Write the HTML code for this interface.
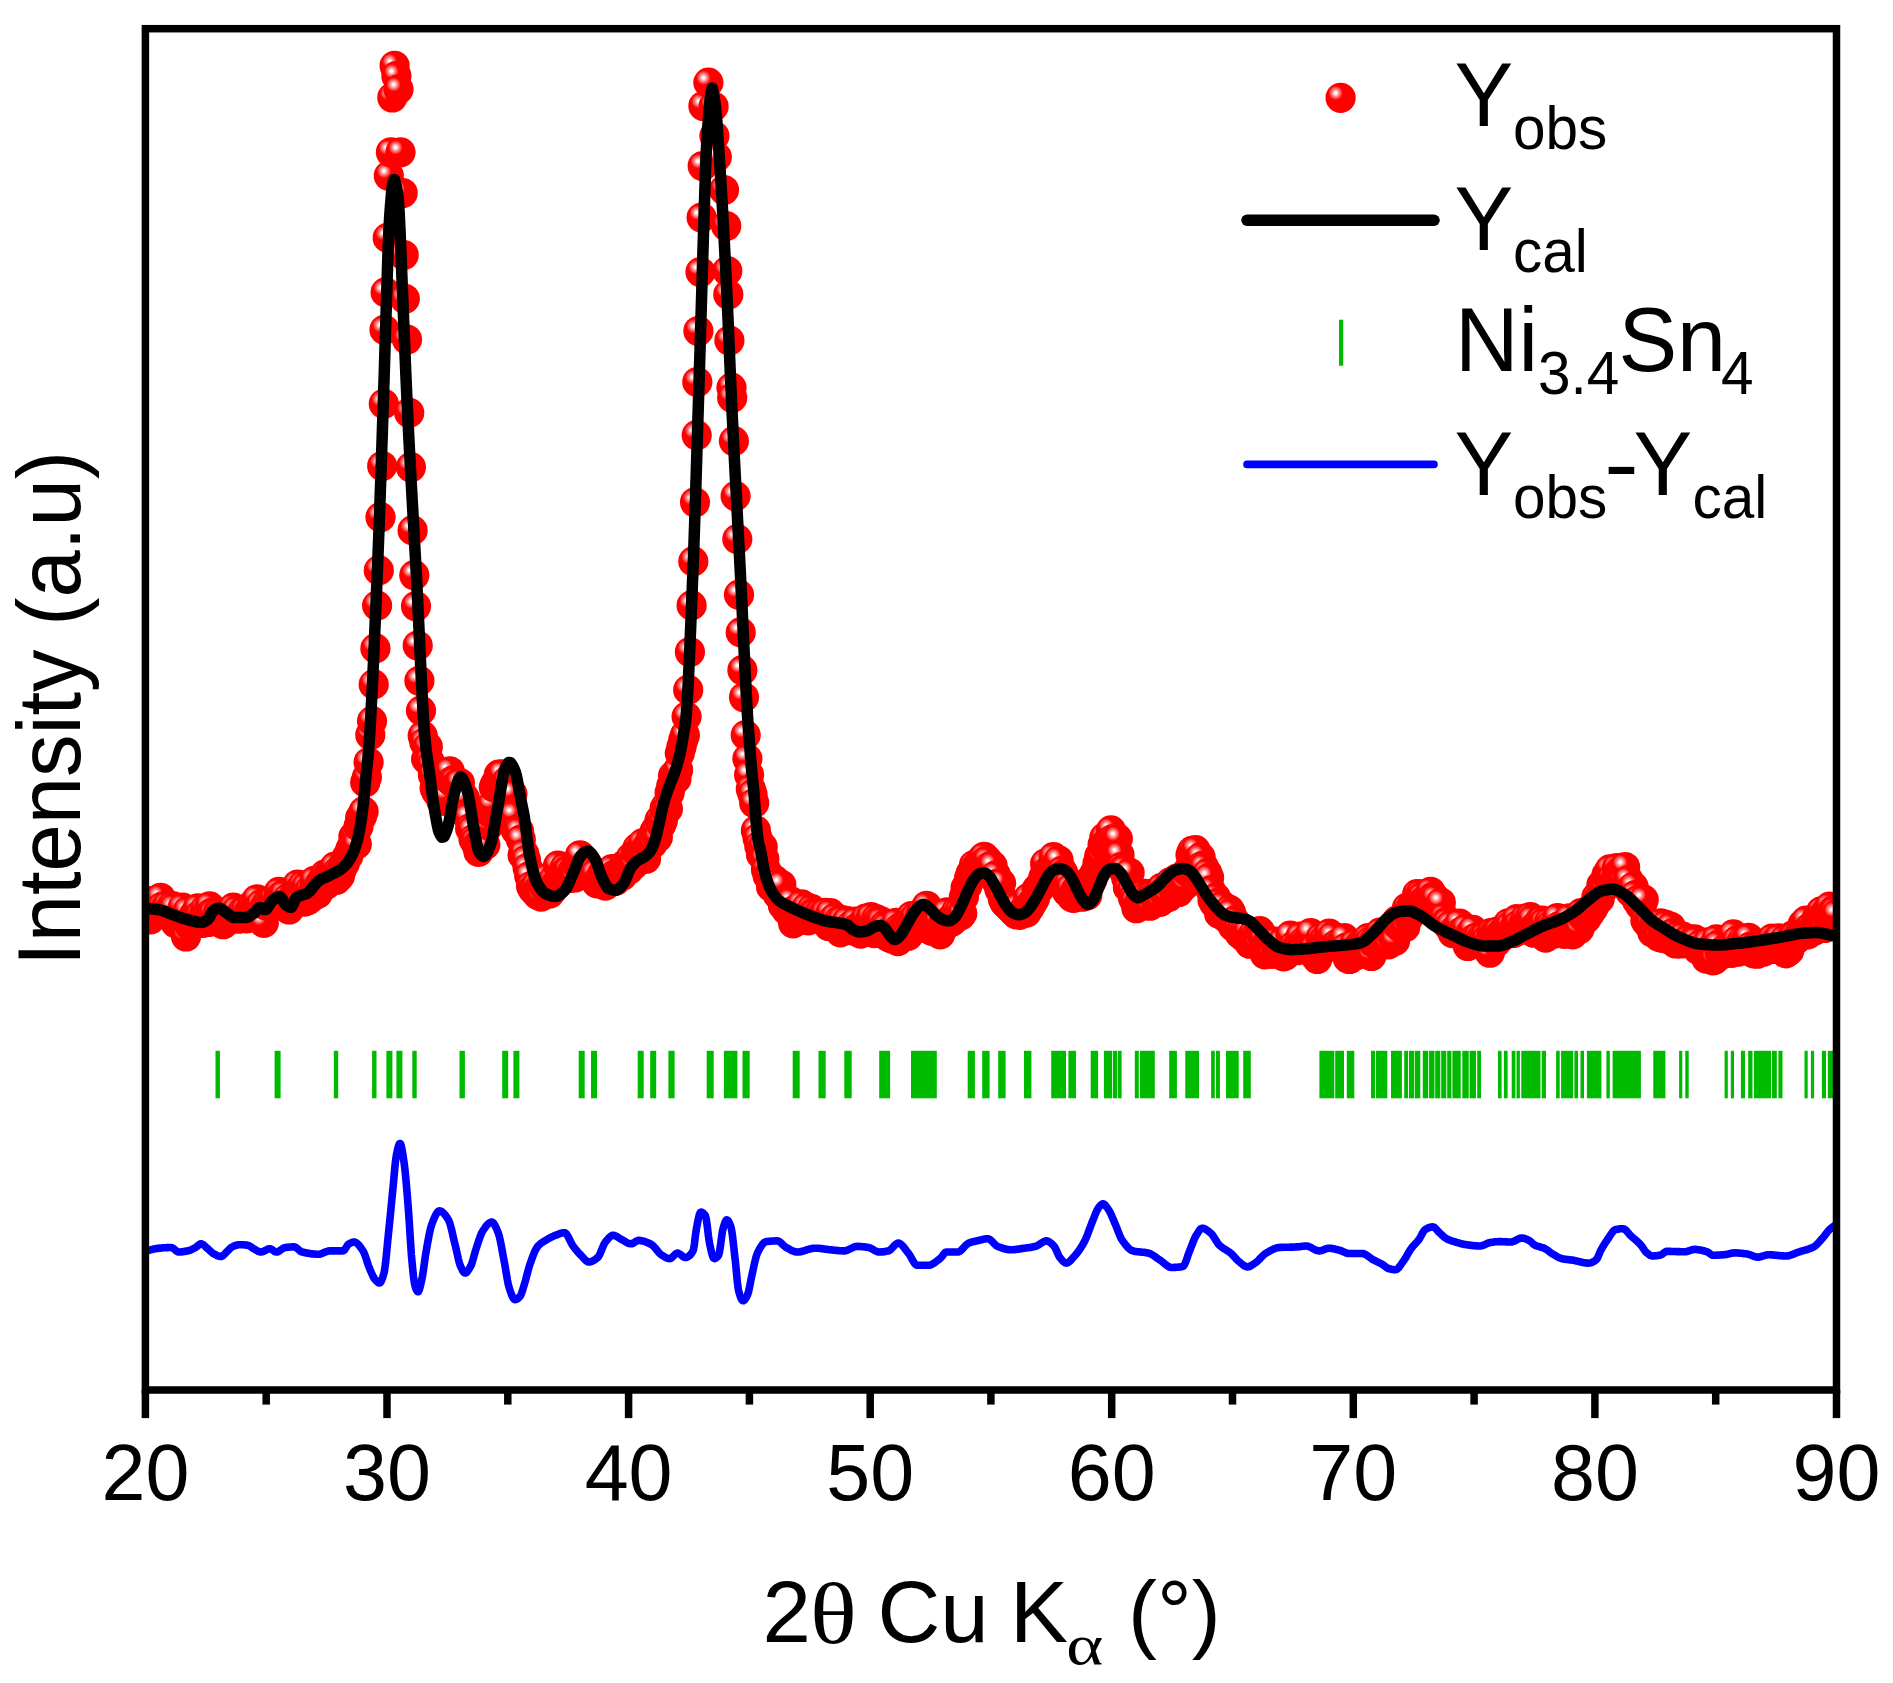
<!DOCTYPE html>
<html lang="en">
<head>
<meta charset="utf-8">
<title>XRD Rietveld refinement Ni3.4Sn4</title>
<style>
html,body{margin:0;padding:0;background:#fff;}
body{width:1893px;height:1683px;overflow:hidden;}
svg{display:block;}
text{font-family:"Liberation Sans", Arial, Helvetica, sans-serif;fill:#000;}
.ser{font-family:"Liberation Serif", "Times New Roman", serif;}
</style>
</head>
<body>
<svg width="1893" height="1683" viewBox="0 0 1893 1683">
<defs>
<radialGradient id="ball" cx="0.337" cy="0.339" r="0.235" fx="0.337" fy="0.339">
<stop offset="0" stop-color="#fff"/>
<stop offset="0.18" stop-color="#fff2f2"/>
<stop offset="0.45" stop-color="#ff9c9c"/>
<stop offset="0.75" stop-color="#ff4a4a"/>
<stop offset="1" stop-color="#f00"/>
</radialGradient>
<clipPath id="plot"><rect x="145.4" y="28.7" width="1691.1" height="1361.3"/></clipPath>
</defs>
<rect width="1893" height="1683" fill="#fff"/>
<g clip-path="url(#plot)">
<g fill="url(#ball)"><circle cx="145.4" cy="912.2" r="15.1"/><circle cx="147.1" cy="902.3" r="15.1"/><circle cx="148.8" cy="901.1" r="15.1"/><circle cx="150.5" cy="919.4" r="15.1"/><circle cx="152.2" cy="903.4" r="15.1"/><circle cx="153.9" cy="911.0" r="15.1"/><circle cx="155.5" cy="900.5" r="15.1"/><circle cx="157.2" cy="913.4" r="15.1"/><circle cx="158.9" cy="904.2" r="15.1"/><circle cx="160.6" cy="897.8" r="15.1"/><circle cx="162.3" cy="906.5" r="15.1"/><circle cx="164.0" cy="911.0" r="15.1"/><circle cx="165.7" cy="907.9" r="15.1"/><circle cx="167.4" cy="905.7" r="15.1"/><circle cx="169.1" cy="911.6" r="15.1"/><circle cx="170.8" cy="907.6" r="15.1"/><circle cx="172.5" cy="906.0" r="15.1"/><circle cx="174.1" cy="907.9" r="15.1"/><circle cx="175.8" cy="923.4" r="15.1"/><circle cx="177.5" cy="917.2" r="15.1"/><circle cx="179.2" cy="919.5" r="15.1"/><circle cx="180.9" cy="920.1" r="15.1"/><circle cx="182.6" cy="907.6" r="15.1"/><circle cx="184.3" cy="921.2" r="15.1"/><circle cx="186.0" cy="936.5" r="15.1"/><circle cx="187.7" cy="911.0" r="15.1"/><circle cx="189.4" cy="925.2" r="15.1"/><circle cx="191.1" cy="925.8" r="15.1"/><circle cx="192.8" cy="925.4" r="15.1"/><circle cx="194.4" cy="914.2" r="15.1"/><circle cx="196.1" cy="915.3" r="15.1"/><circle cx="197.8" cy="908.3" r="15.1"/><circle cx="199.5" cy="915.1" r="15.1"/><circle cx="201.2" cy="921.1" r="15.1"/><circle cx="202.9" cy="922.9" r="15.1"/><circle cx="204.6" cy="910.0" r="15.1"/><circle cx="206.3" cy="913.7" r="15.1"/><circle cx="208.0" cy="922.0" r="15.1"/><circle cx="209.7" cy="906.4" r="15.1"/><circle cx="211.4" cy="912.9" r="15.1"/><circle cx="213.0" cy="913.8" r="15.1"/><circle cx="214.7" cy="921.1" r="15.1"/><circle cx="216.4" cy="917.8" r="15.1"/><circle cx="218.1" cy="912.3" r="15.1"/><circle cx="219.8" cy="912.6" r="15.1"/><circle cx="221.5" cy="914.2" r="15.1"/><circle cx="223.2" cy="924.2" r="15.1"/><circle cx="224.9" cy="913.1" r="15.1"/><circle cx="226.6" cy="913.0" r="15.1"/><circle cx="228.3" cy="916.4" r="15.1"/><circle cx="230.0" cy="913.4" r="15.1"/><circle cx="231.6" cy="912.7" r="15.1"/><circle cx="233.3" cy="907.6" r="15.1"/><circle cx="235.0" cy="913.1" r="15.1"/><circle cx="236.7" cy="910.2" r="15.1"/><circle cx="238.4" cy="918.7" r="15.1"/><circle cx="240.1" cy="915.8" r="15.1"/><circle cx="241.8" cy="912.1" r="15.1"/><circle cx="243.5" cy="916.0" r="15.1"/><circle cx="245.2" cy="910.6" r="15.1"/><circle cx="246.9" cy="918.3" r="15.1"/><circle cx="248.6" cy="912.2" r="15.1"/><circle cx="250.2" cy="915.4" r="15.1"/><circle cx="251.9" cy="905.2" r="15.1"/><circle cx="253.6" cy="914.1" r="15.1"/><circle cx="255.3" cy="902.4" r="15.1"/><circle cx="257.0" cy="899.3" r="15.1"/><circle cx="258.7" cy="907.8" r="15.1"/><circle cx="260.4" cy="904.6" r="15.1"/><circle cx="262.1" cy="911.1" r="15.1"/><circle cx="263.8" cy="922.8" r="15.1"/><circle cx="265.5" cy="905.4" r="15.1"/><circle cx="267.2" cy="904.3" r="15.1"/><circle cx="268.9" cy="905.6" r="15.1"/><circle cx="270.5" cy="904.2" r="15.1"/><circle cx="272.2" cy="899.5" r="15.1"/><circle cx="273.9" cy="899.2" r="15.1"/><circle cx="275.6" cy="903.8" r="15.1"/><circle cx="277.3" cy="901.8" r="15.1"/><circle cx="279.0" cy="891.9" r="15.1"/><circle cx="280.7" cy="896.4" r="15.1"/><circle cx="282.4" cy="898.4" r="15.1"/><circle cx="284.1" cy="894.6" r="15.1"/><circle cx="285.8" cy="903.5" r="15.1"/><circle cx="287.5" cy="898.5" r="15.1"/><circle cx="289.1" cy="909.5" r="15.1"/><circle cx="290.8" cy="905.6" r="15.1"/><circle cx="292.5" cy="903.0" r="15.1"/><circle cx="294.2" cy="895.2" r="15.1"/><circle cx="295.9" cy="894.8" r="15.1"/><circle cx="297.6" cy="884.5" r="15.1"/><circle cx="299.3" cy="890.1" r="15.1"/><circle cx="301.0" cy="899.0" r="15.1"/><circle cx="302.7" cy="885.4" r="15.1"/><circle cx="304.4" cy="901.6" r="15.1"/><circle cx="306.1" cy="887.1" r="15.1"/><circle cx="307.7" cy="900.3" r="15.1"/><circle cx="309.4" cy="890.4" r="15.1"/><circle cx="311.1" cy="897.6" r="15.1"/><circle cx="312.8" cy="892.1" r="15.1"/><circle cx="314.5" cy="880.8" r="15.1"/><circle cx="316.2" cy="894.2" r="15.1"/><circle cx="317.9" cy="893.6" r="15.1"/><circle cx="319.6" cy="884.0" r="15.1"/><circle cx="321.3" cy="881.5" r="15.1"/><circle cx="323.0" cy="880.6" r="15.1"/><circle cx="324.7" cy="874.6" r="15.1"/><circle cx="326.3" cy="884.6" r="15.1"/><circle cx="328.0" cy="874.3" r="15.1"/><circle cx="329.7" cy="875.9" r="15.1"/><circle cx="331.4" cy="870.9" r="15.1"/><circle cx="333.1" cy="871.0" r="15.1"/><circle cx="334.8" cy="866.6" r="15.1"/><circle cx="336.5" cy="879.7" r="15.1"/><circle cx="338.2" cy="871.0" r="15.1"/><circle cx="339.9" cy="876.1" r="15.1"/><circle cx="341.6" cy="869.7" r="15.1"/><circle cx="343.3" cy="864.4" r="15.1"/><circle cx="344.9" cy="863.2" r="15.1"/><circle cx="346.6" cy="857.3" r="15.1"/><circle cx="348.3" cy="855.9" r="15.1"/><circle cx="350.0" cy="850.1" r="15.1"/><circle cx="351.7" cy="846.6" r="15.1"/><circle cx="353.4" cy="836.6" r="15.1"/><circle cx="355.1" cy="835.3" r="15.1"/><circle cx="356.8" cy="844.3" r="15.1"/><circle cx="358.5" cy="826.5" r="15.1"/><circle cx="360.2" cy="817.8" r="15.1"/><circle cx="361.9" cy="816.4" r="15.1"/><circle cx="363.6" cy="811.4" r="15.1"/><circle cx="365.2" cy="782.4" r="15.1"/><circle cx="366.9" cy="777.1" r="15.1"/><circle cx="368.6" cy="762.3" r="15.1"/><circle cx="370.3" cy="735.0" r="15.1"/><circle cx="372.0" cy="721.1" r="15.1"/><circle cx="373.7" cy="684.4" r="15.1"/><circle cx="375.4" cy="648.4" r="15.1"/><circle cx="377.1" cy="605.6" r="15.1"/><circle cx="378.8" cy="570.4" r="15.1"/><circle cx="380.5" cy="517.2" r="15.1"/><circle cx="382.2" cy="466.0" r="15.1"/><circle cx="383.8" cy="403.8" r="15.1"/><circle cx="384.5" cy="329.8" r="15.1"/><circle cx="385.6" cy="292.4" r="15.1"/><circle cx="387.7" cy="237.9" r="15.1"/><circle cx="388.8" cy="175.8" r="15.1"/><circle cx="390.9" cy="152.3" r="15.1"/><circle cx="392.3" cy="97.5" r="15.1"/><circle cx="394.6" cy="65.8" r="15.1"/><circle cx="396.4" cy="76.0" r="15.1"/><circle cx="398.5" cy="89.3" r="15.1"/><circle cx="400.5" cy="152.3" r="15.1"/><circle cx="402.7" cy="193.0" r="15.1"/><circle cx="403.7" cy="255.0" r="15.1"/><circle cx="404.8" cy="298.8" r="15.1"/><circle cx="407.0" cy="339.5" r="15.1"/><circle cx="409.2" cy="412.8" r="15.1"/><circle cx="410.9" cy="467.2" r="15.1"/><circle cx="412.6" cy="530.4" r="15.1"/><circle cx="414.3" cy="575.2" r="15.1"/><circle cx="416.0" cy="606.2" r="15.1"/><circle cx="417.7" cy="645.5" r="15.1"/><circle cx="419.4" cy="680.8" r="15.1"/><circle cx="421.0" cy="710.6" r="15.1"/><circle cx="422.7" cy="735.7" r="15.1"/><circle cx="424.4" cy="742.5" r="15.1"/><circle cx="426.1" cy="759.1" r="15.1"/><circle cx="427.8" cy="746.8" r="15.1"/><circle cx="429.5" cy="761.1" r="15.1"/><circle cx="431.2" cy="765.0" r="15.1"/><circle cx="432.9" cy="775.1" r="15.1"/><circle cx="434.6" cy="787.9" r="15.1"/><circle cx="436.3" cy="791.7" r="15.1"/><circle cx="438.0" cy="783.3" r="15.1"/><circle cx="439.7" cy="784.4" r="15.1"/><circle cx="441.3" cy="800.8" r="15.1"/><circle cx="443.0" cy="791.6" r="15.1"/><circle cx="444.7" cy="795.0" r="15.1"/><circle cx="446.4" cy="796.0" r="15.1"/><circle cx="448.1" cy="778.5" r="15.1"/><circle cx="449.8" cy="771.3" r="15.1"/><circle cx="451.5" cy="781.6" r="15.1"/><circle cx="453.2" cy="780.4" r="15.1"/><circle cx="454.9" cy="781.1" r="15.1"/><circle cx="456.6" cy="784.8" r="15.1"/><circle cx="458.3" cy="783.0" r="15.1"/><circle cx="459.9" cy="783.0" r="15.1"/><circle cx="461.6" cy="794.8" r="15.1"/><circle cx="463.3" cy="796.3" r="15.1"/><circle cx="465.0" cy="798.4" r="15.1"/><circle cx="466.7" cy="815.1" r="15.1"/><circle cx="468.4" cy="817.2" r="15.1"/><circle cx="470.1" cy="828.4" r="15.1"/><circle cx="471.8" cy="830.5" r="15.1"/><circle cx="473.5" cy="839.2" r="15.1"/><circle cx="475.2" cy="841.5" r="15.1"/><circle cx="476.9" cy="845.7" r="15.1"/><circle cx="478.5" cy="851.9" r="15.1"/><circle cx="480.2" cy="842.2" r="15.1"/><circle cx="481.9" cy="843.8" r="15.1"/><circle cx="483.6" cy="839.9" r="15.1"/><circle cx="485.3" cy="844.8" r="15.1"/><circle cx="487.0" cy="820.2" r="15.1"/><circle cx="488.7" cy="825.9" r="15.1"/><circle cx="490.4" cy="813.1" r="15.1"/><circle cx="492.1" cy="804.9" r="15.1"/><circle cx="493.8" cy="787.2" r="15.1"/><circle cx="495.5" cy="783.4" r="15.1"/><circle cx="497.1" cy="783.0" r="15.1"/><circle cx="498.8" cy="774.6" r="15.1"/><circle cx="500.5" cy="774.8" r="15.1"/><circle cx="502.2" cy="774.3" r="15.1"/><circle cx="503.9" cy="785.3" r="15.1"/><circle cx="505.6" cy="785.2" r="15.1"/><circle cx="507.3" cy="780.7" r="15.1"/><circle cx="509.0" cy="795.5" r="15.1"/><circle cx="510.7" cy="794.2" r="15.1"/><circle cx="512.4" cy="793.9" r="15.1"/><circle cx="514.1" cy="815.1" r="15.1"/><circle cx="515.8" cy="830.2" r="15.1"/><circle cx="517.4" cy="830.0" r="15.1"/><circle cx="519.1" cy="831.3" r="15.1"/><circle cx="520.8" cy="839.5" r="15.1"/><circle cx="522.5" cy="854.9" r="15.1"/><circle cx="524.2" cy="853.6" r="15.1"/><circle cx="525.9" cy="859.8" r="15.1"/><circle cx="527.6" cy="867.8" r="15.1"/><circle cx="529.3" cy="876.2" r="15.1"/><circle cx="531.0" cy="886.0" r="15.1"/><circle cx="532.7" cy="889.2" r="15.1"/><circle cx="534.4" cy="890.7" r="15.1"/><circle cx="536.0" cy="885.8" r="15.1"/><circle cx="537.7" cy="894.9" r="15.1"/><circle cx="539.4" cy="887.9" r="15.1"/><circle cx="541.1" cy="896.6" r="15.1"/><circle cx="542.8" cy="882.3" r="15.1"/><circle cx="544.5" cy="887.1" r="15.1"/><circle cx="546.2" cy="886.4" r="15.1"/><circle cx="547.9" cy="877.8" r="15.1"/><circle cx="549.6" cy="893.5" r="15.1"/><circle cx="551.3" cy="891.3" r="15.1"/><circle cx="553.0" cy="880.1" r="15.1"/><circle cx="554.6" cy="886.3" r="15.1"/><circle cx="556.3" cy="883.4" r="15.1"/><circle cx="558.0" cy="865.7" r="15.1"/><circle cx="559.7" cy="879.9" r="15.1"/><circle cx="561.4" cy="876.4" r="15.1"/><circle cx="563.1" cy="875.4" r="15.1"/><circle cx="564.8" cy="867.4" r="15.1"/><circle cx="566.5" cy="870.8" r="15.1"/><circle cx="568.2" cy="870.8" r="15.1"/><circle cx="569.9" cy="878.0" r="15.1"/><circle cx="571.6" cy="873.0" r="15.1"/><circle cx="573.2" cy="870.4" r="15.1"/><circle cx="574.9" cy="877.5" r="15.1"/><circle cx="576.6" cy="864.3" r="15.1"/><circle cx="578.3" cy="863.7" r="15.1"/><circle cx="580.0" cy="855.3" r="15.1"/><circle cx="581.7" cy="874.7" r="15.1"/><circle cx="583.4" cy="872.8" r="15.1"/><circle cx="585.1" cy="874.0" r="15.1"/><circle cx="586.8" cy="873.8" r="15.1"/><circle cx="588.5" cy="871.6" r="15.1"/><circle cx="590.2" cy="872.9" r="15.1"/><circle cx="591.9" cy="871.0" r="15.1"/><circle cx="593.5" cy="871.8" r="15.1"/><circle cx="595.2" cy="873.7" r="15.1"/><circle cx="596.9" cy="883.4" r="15.1"/><circle cx="598.6" cy="880.4" r="15.1"/><circle cx="600.3" cy="877.8" r="15.1"/><circle cx="602.0" cy="874.3" r="15.1"/><circle cx="603.7" cy="873.1" r="15.1"/><circle cx="605.4" cy="885.6" r="15.1"/><circle cx="607.1" cy="880.1" r="15.1"/><circle cx="608.8" cy="877.2" r="15.1"/><circle cx="610.5" cy="873.9" r="15.1"/><circle cx="612.1" cy="869.2" r="15.1"/><circle cx="613.8" cy="875.1" r="15.1"/><circle cx="615.5" cy="880.9" r="15.1"/><circle cx="617.2" cy="874.4" r="15.1"/><circle cx="618.9" cy="875.3" r="15.1"/><circle cx="620.6" cy="874.8" r="15.1"/><circle cx="622.3" cy="875.7" r="15.1"/><circle cx="624.0" cy="865.1" r="15.1"/><circle cx="625.7" cy="870.0" r="15.1"/><circle cx="627.4" cy="863.3" r="15.1"/><circle cx="629.1" cy="869.5" r="15.1"/><circle cx="630.7" cy="857.6" r="15.1"/><circle cx="632.4" cy="862.3" r="15.1"/><circle cx="634.1" cy="864.5" r="15.1"/><circle cx="635.8" cy="851.6" r="15.1"/><circle cx="637.5" cy="847.9" r="15.1"/><circle cx="639.2" cy="851.1" r="15.1"/><circle cx="640.9" cy="849.4" r="15.1"/><circle cx="642.6" cy="843.4" r="15.1"/><circle cx="644.3" cy="850.9" r="15.1"/><circle cx="646.0" cy="858.8" r="15.1"/><circle cx="647.7" cy="845.5" r="15.1"/><circle cx="649.3" cy="844.8" r="15.1"/><circle cx="651.0" cy="838.6" r="15.1"/><circle cx="652.7" cy="843.6" r="15.1"/><circle cx="654.4" cy="831.9" r="15.1"/><circle cx="656.1" cy="829.2" r="15.1"/><circle cx="657.8" cy="837.6" r="15.1"/><circle cx="659.5" cy="820.2" r="15.1"/><circle cx="661.2" cy="824.8" r="15.1"/><circle cx="662.9" cy="820.6" r="15.1"/><circle cx="664.6" cy="808.4" r="15.1"/><circle cx="666.3" cy="805.6" r="15.1"/><circle cx="667.9" cy="809.0" r="15.1"/><circle cx="669.6" cy="792.8" r="15.1"/><circle cx="671.3" cy="785.7" r="15.1"/><circle cx="673.0" cy="775.9" r="15.1"/><circle cx="674.7" cy="777.5" r="15.1"/><circle cx="676.4" cy="778.9" r="15.1"/><circle cx="678.1" cy="769.8" r="15.1"/><circle cx="679.8" cy="753.2" r="15.1"/><circle cx="681.5" cy="746.8" r="15.1"/><circle cx="683.2" cy="740.3" r="15.1"/><circle cx="684.9" cy="735.3" r="15.1"/><circle cx="686.6" cy="716.6" r="15.1"/><circle cx="688.2" cy="689.9" r="15.1"/><circle cx="689.9" cy="652.0" r="15.1"/><circle cx="691.6" cy="605.4" r="15.1"/><circle cx="693.3" cy="561.4" r="15.1"/><circle cx="695.0" cy="502.3" r="15.1"/><circle cx="696.7" cy="435.2" r="15.1"/><circle cx="697.3" cy="382.0" r="15.1"/><circle cx="698.4" cy="331.0" r="15.1"/><circle cx="700.5" cy="272.0" r="15.1"/><circle cx="701.6" cy="217.5" r="15.1"/><circle cx="702.7" cy="166.0" r="15.1"/><circle cx="703.4" cy="106.0" r="15.1"/><circle cx="708.4" cy="82.6" r="15.1"/><circle cx="713.6" cy="106.5" r="15.1"/><circle cx="714.4" cy="136.0" r="15.1"/><circle cx="716.8" cy="157.0" r="15.1"/><circle cx="724.0" cy="190.0" r="15.1"/><circle cx="726.2" cy="226.0" r="15.1"/><circle cx="727.3" cy="271.0" r="15.1"/><circle cx="728.3" cy="294.5" r="15.1"/><circle cx="729.4" cy="340.5" r="15.1"/><circle cx="731.5" cy="387.6" r="15.1"/><circle cx="732.2" cy="397.8" r="15.1"/><circle cx="733.9" cy="441.1" r="15.1"/><circle cx="735.6" cy="496.1" r="15.1"/><circle cx="737.3" cy="539.1" r="15.1"/><circle cx="739.0" cy="594.7" r="15.1"/><circle cx="740.7" cy="632.4" r="15.1"/><circle cx="742.4" cy="670.2" r="15.1"/><circle cx="744.0" cy="697.3" r="15.1"/><circle cx="745.7" cy="735.1" r="15.1"/><circle cx="747.4" cy="758.7" r="15.1"/><circle cx="749.1" cy="774.7" r="15.1"/><circle cx="750.8" cy="789.0" r="15.1"/><circle cx="752.5" cy="794.1" r="15.1"/><circle cx="754.2" cy="803.0" r="15.1"/><circle cx="755.9" cy="830.4" r="15.1"/><circle cx="757.6" cy="838.3" r="15.1"/><circle cx="759.3" cy="845.9" r="15.1"/><circle cx="761.0" cy="854.4" r="15.1"/><circle cx="762.7" cy="846.9" r="15.1"/><circle cx="764.3" cy="858.8" r="15.1"/><circle cx="766.0" cy="869.8" r="15.1"/><circle cx="767.7" cy="876.1" r="15.1"/><circle cx="769.4" cy="875.8" r="15.1"/><circle cx="771.1" cy="886.9" r="15.1"/><circle cx="772.8" cy="885.3" r="15.1"/><circle cx="774.5" cy="879.8" r="15.1"/><circle cx="776.2" cy="883.5" r="15.1"/><circle cx="777.9" cy="894.9" r="15.1"/><circle cx="779.6" cy="895.2" r="15.1"/><circle cx="781.3" cy="884.8" r="15.1"/><circle cx="782.9" cy="905.4" r="15.1"/><circle cx="784.6" cy="903.8" r="15.1"/><circle cx="786.3" cy="910.0" r="15.1"/><circle cx="788.0" cy="902.2" r="15.1"/><circle cx="789.7" cy="904.5" r="15.1"/><circle cx="791.4" cy="901.6" r="15.1"/><circle cx="793.1" cy="923.3" r="15.1"/><circle cx="794.8" cy="909.8" r="15.1"/><circle cx="796.5" cy="920.6" r="15.1"/><circle cx="798.2" cy="909.1" r="15.1"/><circle cx="799.9" cy="914.1" r="15.1"/><circle cx="801.5" cy="904.4" r="15.1"/><circle cx="803.2" cy="911.8" r="15.1"/><circle cx="804.9" cy="919.5" r="15.1"/><circle cx="806.6" cy="907.4" r="15.1"/><circle cx="808.3" cy="920.3" r="15.1"/><circle cx="810.0" cy="916.5" r="15.1"/><circle cx="811.7" cy="909.2" r="15.1"/><circle cx="813.4" cy="912.5" r="15.1"/><circle cx="815.1" cy="913.3" r="15.1"/><circle cx="816.8" cy="916.1" r="15.1"/><circle cx="818.5" cy="914.2" r="15.1"/><circle cx="820.1" cy="913.3" r="15.1"/><circle cx="821.8" cy="916.9" r="15.1"/><circle cx="823.5" cy="913.7" r="15.1"/><circle cx="825.2" cy="912.9" r="15.1"/><circle cx="826.9" cy="920.4" r="15.1"/><circle cx="828.6" cy="926.0" r="15.1"/><circle cx="830.3" cy="913.2" r="15.1"/><circle cx="832.0" cy="922.0" r="15.1"/><circle cx="833.7" cy="918.9" r="15.1"/><circle cx="835.4" cy="917.5" r="15.1"/><circle cx="837.1" cy="927.9" r="15.1"/><circle cx="838.8" cy="920.8" r="15.1"/><circle cx="840.4" cy="932.3" r="15.1"/><circle cx="842.1" cy="920.2" r="15.1"/><circle cx="843.8" cy="926.9" r="15.1"/><circle cx="845.5" cy="923.8" r="15.1"/><circle cx="847.2" cy="921.0" r="15.1"/><circle cx="848.9" cy="929.0" r="15.1"/><circle cx="850.6" cy="925.7" r="15.1"/><circle cx="852.3" cy="930.4" r="15.1"/><circle cx="854.0" cy="927.0" r="15.1"/><circle cx="855.7" cy="921.6" r="15.1"/><circle cx="857.4" cy="927.5" r="15.1"/><circle cx="859.0" cy="928.6" r="15.1"/><circle cx="860.7" cy="933.6" r="15.1"/><circle cx="862.4" cy="923.4" r="15.1"/><circle cx="864.1" cy="928.0" r="15.1"/><circle cx="865.8" cy="918.7" r="15.1"/><circle cx="867.5" cy="931.6" r="15.1"/><circle cx="869.2" cy="921.7" r="15.1"/><circle cx="870.9" cy="917.2" r="15.1"/><circle cx="872.6" cy="926.6" r="15.1"/><circle cx="874.3" cy="933.1" r="15.1"/><circle cx="876.0" cy="919.0" r="15.1"/><circle cx="877.6" cy="921.6" r="15.1"/><circle cx="879.3" cy="923.5" r="15.1"/><circle cx="881.0" cy="921.3" r="15.1"/><circle cx="882.7" cy="930.4" r="15.1"/><circle cx="884.4" cy="925.1" r="15.1"/><circle cx="886.1" cy="927.0" r="15.1"/><circle cx="887.8" cy="936.5" r="15.1"/><circle cx="889.5" cy="931.2" r="15.1"/><circle cx="891.2" cy="938.3" r="15.1"/><circle cx="892.9" cy="930.5" r="15.1"/><circle cx="894.6" cy="928.2" r="15.1"/><circle cx="896.2" cy="922.8" r="15.1"/><circle cx="897.9" cy="941.1" r="15.1"/><circle cx="899.6" cy="927.8" r="15.1"/><circle cx="901.3" cy="930.0" r="15.1"/><circle cx="903.0" cy="927.6" r="15.1"/><circle cx="904.7" cy="927.8" r="15.1"/><circle cx="906.4" cy="926.6" r="15.1"/><circle cx="908.1" cy="935.9" r="15.1"/><circle cx="909.8" cy="918.8" r="15.1"/><circle cx="911.5" cy="916.0" r="15.1"/><circle cx="913.2" cy="919.4" r="15.1"/><circle cx="914.9" cy="917.7" r="15.1"/><circle cx="916.5" cy="928.3" r="15.1"/><circle cx="918.2" cy="927.2" r="15.1"/><circle cx="919.9" cy="916.0" r="15.1"/><circle cx="921.6" cy="912.6" r="15.1"/><circle cx="923.3" cy="917.8" r="15.1"/><circle cx="925.0" cy="927.8" r="15.1"/><circle cx="926.7" cy="905.8" r="15.1"/><circle cx="928.4" cy="925.6" r="15.1"/><circle cx="930.1" cy="918.0" r="15.1"/><circle cx="931.8" cy="930.7" r="15.1"/><circle cx="933.5" cy="920.0" r="15.1"/><circle cx="935.1" cy="925.0" r="15.1"/><circle cx="936.8" cy="918.5" r="15.1"/><circle cx="938.5" cy="921.4" r="15.1"/><circle cx="940.2" cy="934.3" r="15.1"/><circle cx="941.9" cy="930.3" r="15.1"/><circle cx="943.6" cy="922.1" r="15.1"/><circle cx="945.3" cy="918.1" r="15.1"/><circle cx="947.0" cy="912.3" r="15.1"/><circle cx="948.7" cy="920.7" r="15.1"/><circle cx="950.4" cy="922.4" r="15.1"/><circle cx="952.1" cy="921.2" r="15.1"/><circle cx="953.7" cy="919.8" r="15.1"/><circle cx="955.4" cy="912.6" r="15.1"/><circle cx="957.1" cy="915.8" r="15.1"/><circle cx="958.8" cy="912.5" r="15.1"/><circle cx="960.5" cy="915.5" r="15.1"/><circle cx="962.2" cy="913.5" r="15.1"/><circle cx="963.9" cy="896.9" r="15.1"/><circle cx="965.6" cy="887.6" r="15.1"/><circle cx="967.3" cy="885.9" r="15.1"/><circle cx="969.0" cy="878.2" r="15.1"/><circle cx="970.7" cy="873.5" r="15.1"/><circle cx="972.3" cy="873.7" r="15.1"/><circle cx="974.0" cy="865.0" r="15.1"/><circle cx="975.7" cy="871.5" r="15.1"/><circle cx="977.4" cy="865.4" r="15.1"/><circle cx="979.1" cy="865.7" r="15.1"/><circle cx="980.8" cy="862.3" r="15.1"/><circle cx="982.5" cy="858.5" r="15.1"/><circle cx="984.2" cy="856.8" r="15.1"/><circle cx="985.9" cy="861.0" r="15.1"/><circle cx="987.6" cy="860.4" r="15.1"/><circle cx="989.3" cy="866.5" r="15.1"/><circle cx="990.9" cy="868.6" r="15.1"/><circle cx="992.6" cy="865.7" r="15.1"/><circle cx="994.3" cy="878.4" r="15.1"/><circle cx="996.0" cy="875.3" r="15.1"/><circle cx="997.7" cy="883.5" r="15.1"/><circle cx="999.4" cy="889.2" r="15.1"/><circle cx="1001.1" cy="883.1" r="15.1"/><circle cx="1002.8" cy="898.7" r="15.1"/><circle cx="1004.5" cy="902.6" r="15.1"/><circle cx="1006.2" cy="904.0" r="15.1"/><circle cx="1007.9" cy="905.1" r="15.1"/><circle cx="1009.6" cy="907.6" r="15.1"/><circle cx="1011.2" cy="906.1" r="15.1"/><circle cx="1012.9" cy="911.0" r="15.1"/><circle cx="1014.6" cy="910.2" r="15.1"/><circle cx="1016.3" cy="914.2" r="15.1"/><circle cx="1018.0" cy="907.2" r="15.1"/><circle cx="1019.7" cy="914.8" r="15.1"/><circle cx="1021.4" cy="913.6" r="15.1"/><circle cx="1023.1" cy="911.2" r="15.1"/><circle cx="1024.8" cy="908.5" r="15.1"/><circle cx="1026.5" cy="912.5" r="15.1"/><circle cx="1028.2" cy="898.2" r="15.1"/><circle cx="1029.8" cy="907.6" r="15.1"/><circle cx="1031.5" cy="904.0" r="15.1"/><circle cx="1033.2" cy="901.3" r="15.1"/><circle cx="1034.9" cy="898.6" r="15.1"/><circle cx="1036.6" cy="889.5" r="15.1"/><circle cx="1038.3" cy="887.7" r="15.1"/><circle cx="1040.0" cy="888.3" r="15.1"/><circle cx="1041.7" cy="882.8" r="15.1"/><circle cx="1043.4" cy="877.3" r="15.1"/><circle cx="1045.1" cy="863.7" r="15.1"/><circle cx="1046.8" cy="871.7" r="15.1"/><circle cx="1048.4" cy="873.2" r="15.1"/><circle cx="1050.1" cy="871.2" r="15.1"/><circle cx="1051.8" cy="866.6" r="15.1"/><circle cx="1053.5" cy="857.2" r="15.1"/><circle cx="1055.2" cy="872.6" r="15.1"/><circle cx="1056.9" cy="869.8" r="15.1"/><circle cx="1058.6" cy="860.3" r="15.1"/><circle cx="1060.3" cy="878.8" r="15.1"/><circle cx="1062.0" cy="870.8" r="15.1"/><circle cx="1063.7" cy="874.3" r="15.1"/><circle cx="1065.4" cy="879.9" r="15.1"/><circle cx="1067.0" cy="891.7" r="15.1"/><circle cx="1068.7" cy="883.9" r="15.1"/><circle cx="1070.4" cy="888.4" r="15.1"/><circle cx="1072.1" cy="897.4" r="15.1"/><circle cx="1073.8" cy="897.8" r="15.1"/><circle cx="1075.5" cy="890.2" r="15.1"/><circle cx="1077.2" cy="891.0" r="15.1"/><circle cx="1078.9" cy="886.4" r="15.1"/><circle cx="1080.6" cy="890.4" r="15.1"/><circle cx="1082.3" cy="896.7" r="15.1"/><circle cx="1084.0" cy="895.9" r="15.1"/><circle cx="1085.7" cy="893.0" r="15.1"/><circle cx="1087.3" cy="895.2" r="15.1"/><circle cx="1089.0" cy="881.2" r="15.1"/><circle cx="1090.7" cy="880.0" r="15.1"/><circle cx="1092.4" cy="879.5" r="15.1"/><circle cx="1094.1" cy="874.2" r="15.1"/><circle cx="1095.8" cy="871.8" r="15.1"/><circle cx="1097.5" cy="863.4" r="15.1"/><circle cx="1099.2" cy="856.3" r="15.1"/><circle cx="1100.9" cy="856.3" r="15.1"/><circle cx="1102.6" cy="844.6" r="15.1"/><circle cx="1104.3" cy="837.6" r="15.1"/><circle cx="1105.9" cy="847.3" r="15.1"/><circle cx="1107.6" cy="841.5" r="15.1"/><circle cx="1109.3" cy="841.5" r="15.1"/><circle cx="1111.0" cy="830.4" r="15.1"/><circle cx="1112.7" cy="839.0" r="15.1"/><circle cx="1114.4" cy="839.9" r="15.1"/><circle cx="1116.1" cy="841.4" r="15.1"/><circle cx="1117.8" cy="838.6" r="15.1"/><circle cx="1119.5" cy="854.9" r="15.1"/><circle cx="1121.2" cy="867.1" r="15.1"/><circle cx="1122.9" cy="869.5" r="15.1"/><circle cx="1124.5" cy="869.6" r="15.1"/><circle cx="1126.2" cy="878.0" r="15.1"/><circle cx="1127.9" cy="887.4" r="15.1"/><circle cx="1129.6" cy="872.8" r="15.1"/><circle cx="1131.3" cy="891.2" r="15.1"/><circle cx="1133.0" cy="898.1" r="15.1"/><circle cx="1134.7" cy="901.1" r="15.1"/><circle cx="1136.4" cy="908.2" r="15.1"/><circle cx="1138.1" cy="905.8" r="15.1"/><circle cx="1139.8" cy="900.9" r="15.1"/><circle cx="1141.5" cy="900.0" r="15.1"/><circle cx="1143.1" cy="901.8" r="15.1"/><circle cx="1144.8" cy="893.8" r="15.1"/><circle cx="1146.5" cy="895.8" r="15.1"/><circle cx="1148.2" cy="900.4" r="15.1"/><circle cx="1149.9" cy="905.7" r="15.1"/><circle cx="1151.6" cy="893.9" r="15.1"/><circle cx="1153.3" cy="894.5" r="15.1"/><circle cx="1155.0" cy="895.9" r="15.1"/><circle cx="1156.7" cy="902.1" r="15.1"/><circle cx="1158.4" cy="894.1" r="15.1"/><circle cx="1160.1" cy="901.7" r="15.1"/><circle cx="1161.8" cy="887.8" r="15.1"/><circle cx="1163.4" cy="891.7" r="15.1"/><circle cx="1165.1" cy="891.2" r="15.1"/><circle cx="1166.8" cy="896.1" r="15.1"/><circle cx="1168.5" cy="897.0" r="15.1"/><circle cx="1170.2" cy="882.4" r="15.1"/><circle cx="1171.9" cy="884.6" r="15.1"/><circle cx="1173.6" cy="890.4" r="15.1"/><circle cx="1175.3" cy="884.0" r="15.1"/><circle cx="1177.0" cy="878.5" r="15.1"/><circle cx="1178.7" cy="892.0" r="15.1"/><circle cx="1180.4" cy="888.3" r="15.1"/><circle cx="1182.0" cy="887.5" r="15.1"/><circle cx="1183.7" cy="880.8" r="15.1"/><circle cx="1185.4" cy="884.8" r="15.1"/><circle cx="1187.1" cy="871.5" r="15.1"/><circle cx="1188.8" cy="871.9" r="15.1"/><circle cx="1190.5" cy="854.9" r="15.1"/><circle cx="1192.2" cy="850.9" r="15.1"/><circle cx="1193.9" cy="854.7" r="15.1"/><circle cx="1195.6" cy="850.1" r="15.1"/><circle cx="1197.3" cy="860.1" r="15.1"/><circle cx="1199.0" cy="860.7" r="15.1"/><circle cx="1200.6" cy="857.1" r="15.1"/><circle cx="1202.3" cy="865.8" r="15.1"/><circle cx="1204.0" cy="867.2" r="15.1"/><circle cx="1205.7" cy="877.9" r="15.1"/><circle cx="1207.4" cy="873.1" r="15.1"/><circle cx="1209.1" cy="877.8" r="15.1"/><circle cx="1210.8" cy="890.4" r="15.1"/><circle cx="1212.5" cy="900.1" r="15.1"/><circle cx="1214.2" cy="903.3" r="15.1"/><circle cx="1215.9" cy="897.5" r="15.1"/><circle cx="1217.6" cy="902.9" r="15.1"/><circle cx="1219.2" cy="913.9" r="15.1"/><circle cx="1220.9" cy="907.8" r="15.1"/><circle cx="1222.6" cy="905.8" r="15.1"/><circle cx="1224.3" cy="914.2" r="15.1"/><circle cx="1226.0" cy="917.9" r="15.1"/><circle cx="1227.7" cy="912.6" r="15.1"/><circle cx="1229.4" cy="909.8" r="15.1"/><circle cx="1231.1" cy="912.7" r="15.1"/><circle cx="1232.8" cy="926.3" r="15.1"/><circle cx="1234.5" cy="920.5" r="15.1"/><circle cx="1236.2" cy="926.0" r="15.1"/><circle cx="1237.9" cy="929.8" r="15.1"/><circle cx="1239.5" cy="933.6" r="15.1"/><circle cx="1241.2" cy="930.0" r="15.1"/><circle cx="1242.9" cy="936.2" r="15.1"/><circle cx="1244.6" cy="930.2" r="15.1"/><circle cx="1246.3" cy="934.4" r="15.1"/><circle cx="1248.0" cy="931.5" r="15.1"/><circle cx="1249.7" cy="943.7" r="15.1"/><circle cx="1251.4" cy="937.7" r="15.1"/><circle cx="1253.1" cy="934.4" r="15.1"/><circle cx="1254.8" cy="937.2" r="15.1"/><circle cx="1256.5" cy="938.6" r="15.1"/><circle cx="1258.1" cy="943.8" r="15.1"/><circle cx="1259.8" cy="931.2" r="15.1"/><circle cx="1261.5" cy="934.3" r="15.1"/><circle cx="1263.2" cy="938.0" r="15.1"/><circle cx="1264.9" cy="954.3" r="15.1"/><circle cx="1266.6" cy="946.2" r="15.1"/><circle cx="1268.3" cy="940.8" r="15.1"/><circle cx="1270.0" cy="945.8" r="15.1"/><circle cx="1271.7" cy="953.8" r="15.1"/><circle cx="1273.4" cy="941.8" r="15.1"/><circle cx="1275.1" cy="941.7" r="15.1"/><circle cx="1276.7" cy="951.0" r="15.1"/><circle cx="1278.4" cy="947.5" r="15.1"/><circle cx="1280.1" cy="948.8" r="15.1"/><circle cx="1281.8" cy="942.7" r="15.1"/><circle cx="1283.5" cy="956.4" r="15.1"/><circle cx="1285.2" cy="955.5" r="15.1"/><circle cx="1286.9" cy="949.5" r="15.1"/><circle cx="1288.6" cy="950.4" r="15.1"/><circle cx="1290.3" cy="935.6" r="15.1"/><circle cx="1292.0" cy="950.3" r="15.1"/><circle cx="1293.7" cy="945.7" r="15.1"/><circle cx="1295.3" cy="949.0" r="15.1"/><circle cx="1297.0" cy="950.2" r="15.1"/><circle cx="1298.7" cy="944.4" r="15.1"/><circle cx="1300.4" cy="936.6" r="15.1"/><circle cx="1302.1" cy="947.5" r="15.1"/><circle cx="1303.8" cy="941.1" r="15.1"/><circle cx="1305.5" cy="943.1" r="15.1"/><circle cx="1307.2" cy="941.5" r="15.1"/><circle cx="1308.9" cy="943.2" r="15.1"/><circle cx="1310.6" cy="933.0" r="15.1"/><circle cx="1312.3" cy="953.1" r="15.1"/><circle cx="1314.0" cy="948.5" r="15.1"/><circle cx="1315.6" cy="953.8" r="15.1"/><circle cx="1317.3" cy="959.0" r="15.1"/><circle cx="1319.0" cy="948.4" r="15.1"/><circle cx="1320.7" cy="938.0" r="15.1"/><circle cx="1322.4" cy="942.3" r="15.1"/><circle cx="1324.1" cy="939.7" r="15.1"/><circle cx="1325.8" cy="942.7" r="15.1"/><circle cx="1327.5" cy="945.3" r="15.1"/><circle cx="1329.2" cy="933.5" r="15.1"/><circle cx="1330.9" cy="946.4" r="15.1"/><circle cx="1332.6" cy="936.3" r="15.1"/><circle cx="1334.2" cy="946.5" r="15.1"/><circle cx="1335.9" cy="944.5" r="15.1"/><circle cx="1337.6" cy="943.7" r="15.1"/><circle cx="1339.3" cy="945.4" r="15.1"/><circle cx="1341.0" cy="943.2" r="15.1"/><circle cx="1342.7" cy="943.3" r="15.1"/><circle cx="1344.4" cy="938.1" r="15.1"/><circle cx="1346.1" cy="947.7" r="15.1"/><circle cx="1347.8" cy="958.4" r="15.1"/><circle cx="1349.5" cy="959.0" r="15.1"/><circle cx="1351.2" cy="955.2" r="15.1"/><circle cx="1352.8" cy="951.6" r="15.1"/><circle cx="1354.5" cy="943.8" r="15.1"/><circle cx="1356.2" cy="955.2" r="15.1"/><circle cx="1357.9" cy="946.7" r="15.1"/><circle cx="1359.6" cy="946.3" r="15.1"/><circle cx="1361.3" cy="944.6" r="15.1"/><circle cx="1363.0" cy="945.9" r="15.1"/><circle cx="1364.7" cy="942.4" r="15.1"/><circle cx="1366.4" cy="943.9" r="15.1"/><circle cx="1368.1" cy="938.1" r="15.1"/><circle cx="1369.8" cy="941.7" r="15.1"/><circle cx="1371.4" cy="956.0" r="15.1"/><circle cx="1373.1" cy="942.6" r="15.1"/><circle cx="1374.8" cy="940.9" r="15.1"/><circle cx="1376.5" cy="944.1" r="15.1"/><circle cx="1378.2" cy="943.9" r="15.1"/><circle cx="1379.9" cy="932.7" r="15.1"/><circle cx="1381.6" cy="936.5" r="15.1"/><circle cx="1383.3" cy="941.9" r="15.1"/><circle cx="1385.0" cy="937.9" r="15.1"/><circle cx="1386.7" cy="936.9" r="15.1"/><circle cx="1388.4" cy="944.3" r="15.1"/><circle cx="1390.0" cy="931.2" r="15.1"/><circle cx="1391.7" cy="934.6" r="15.1"/><circle cx="1393.4" cy="930.4" r="15.1"/><circle cx="1395.1" cy="940.7" r="15.1"/><circle cx="1396.8" cy="920.7" r="15.1"/><circle cx="1398.5" cy="926.1" r="15.1"/><circle cx="1400.2" cy="924.5" r="15.1"/><circle cx="1401.9" cy="928.3" r="15.1"/><circle cx="1403.6" cy="925.3" r="15.1"/><circle cx="1405.3" cy="927.1" r="15.1"/><circle cx="1407.0" cy="907.8" r="15.1"/><circle cx="1408.7" cy="917.5" r="15.1"/><circle cx="1410.3" cy="909.1" r="15.1"/><circle cx="1412.0" cy="905.2" r="15.1"/><circle cx="1413.7" cy="910.5" r="15.1"/><circle cx="1415.4" cy="901.5" r="15.1"/><circle cx="1417.1" cy="894.2" r="15.1"/><circle cx="1418.8" cy="902.4" r="15.1"/><circle cx="1420.5" cy="894.3" r="15.1"/><circle cx="1422.2" cy="896.8" r="15.1"/><circle cx="1423.9" cy="900.8" r="15.1"/><circle cx="1425.6" cy="900.1" r="15.1"/><circle cx="1427.3" cy="907.5" r="15.1"/><circle cx="1428.9" cy="898.3" r="15.1"/><circle cx="1430.6" cy="891.8" r="15.1"/><circle cx="1432.3" cy="897.1" r="15.1"/><circle cx="1434.0" cy="897.8" r="15.1"/><circle cx="1435.7" cy="898.6" r="15.1"/><circle cx="1437.4" cy="910.5" r="15.1"/><circle cx="1439.1" cy="907.4" r="15.1"/><circle cx="1440.8" cy="902.5" r="15.1"/><circle cx="1442.5" cy="919.6" r="15.1"/><circle cx="1444.2" cy="917.5" r="15.1"/><circle cx="1445.9" cy="922.2" r="15.1"/><circle cx="1447.5" cy="922.5" r="15.1"/><circle cx="1449.2" cy="926.9" r="15.1"/><circle cx="1450.9" cy="925.1" r="15.1"/><circle cx="1452.6" cy="933.1" r="15.1"/><circle cx="1454.3" cy="929.9" r="15.1"/><circle cx="1456.0" cy="931.1" r="15.1"/><circle cx="1457.7" cy="932.5" r="15.1"/><circle cx="1459.4" cy="923.5" r="15.1"/><circle cx="1461.1" cy="931.9" r="15.1"/><circle cx="1462.8" cy="932.6" r="15.1"/><circle cx="1464.5" cy="936.2" r="15.1"/><circle cx="1466.1" cy="928.6" r="15.1"/><circle cx="1467.8" cy="946.0" r="15.1"/><circle cx="1469.5" cy="938.4" r="15.1"/><circle cx="1471.2" cy="931.9" r="15.1"/><circle cx="1472.9" cy="929.9" r="15.1"/><circle cx="1474.6" cy="938.4" r="15.1"/><circle cx="1476.3" cy="940.1" r="15.1"/><circle cx="1478.0" cy="937.2" r="15.1"/><circle cx="1479.7" cy="942.0" r="15.1"/><circle cx="1481.4" cy="938.1" r="15.1"/><circle cx="1483.1" cy="944.3" r="15.1"/><circle cx="1484.8" cy="936.7" r="15.1"/><circle cx="1486.4" cy="939.7" r="15.1"/><circle cx="1488.1" cy="944.5" r="15.1"/><circle cx="1489.8" cy="952.7" r="15.1"/><circle cx="1491.5" cy="932.8" r="15.1"/><circle cx="1493.2" cy="935.5" r="15.1"/><circle cx="1494.9" cy="933.3" r="15.1"/><circle cx="1496.6" cy="942.0" r="15.1"/><circle cx="1498.3" cy="931.3" r="15.1"/><circle cx="1500.0" cy="934.7" r="15.1"/><circle cx="1501.7" cy="936.9" r="15.1"/><circle cx="1503.4" cy="931.2" r="15.1"/><circle cx="1505.0" cy="930.8" r="15.1"/><circle cx="1506.7" cy="932.9" r="15.1"/><circle cx="1508.4" cy="923.3" r="15.1"/><circle cx="1510.1" cy="926.3" r="15.1"/><circle cx="1511.8" cy="931.2" r="15.1"/><circle cx="1513.5" cy="933.1" r="15.1"/><circle cx="1515.2" cy="929.7" r="15.1"/><circle cx="1516.9" cy="919.2" r="15.1"/><circle cx="1518.6" cy="924.6" r="15.1"/><circle cx="1520.3" cy="930.0" r="15.1"/><circle cx="1522.0" cy="927.6" r="15.1"/><circle cx="1523.6" cy="923.4" r="15.1"/><circle cx="1525.3" cy="918.6" r="15.1"/><circle cx="1527.0" cy="926.8" r="15.1"/><circle cx="1528.7" cy="920.0" r="15.1"/><circle cx="1530.4" cy="917.1" r="15.1"/><circle cx="1532.1" cy="919.7" r="15.1"/><circle cx="1533.8" cy="932.7" r="15.1"/><circle cx="1535.5" cy="926.1" r="15.1"/><circle cx="1537.2" cy="931.0" r="15.1"/><circle cx="1538.9" cy="921.7" r="15.1"/><circle cx="1540.6" cy="929.2" r="15.1"/><circle cx="1542.2" cy="920.5" r="15.1"/><circle cx="1543.9" cy="922.8" r="15.1"/><circle cx="1545.6" cy="937.6" r="15.1"/><circle cx="1547.3" cy="928.7" r="15.1"/><circle cx="1549.0" cy="922.4" r="15.1"/><circle cx="1550.7" cy="925.4" r="15.1"/><circle cx="1552.4" cy="928.2" r="15.1"/><circle cx="1554.1" cy="933.5" r="15.1"/><circle cx="1555.8" cy="924.5" r="15.1"/><circle cx="1557.5" cy="918.0" r="15.1"/><circle cx="1559.2" cy="926.1" r="15.1"/><circle cx="1560.9" cy="927.6" r="15.1"/><circle cx="1562.5" cy="927.8" r="15.1"/><circle cx="1564.2" cy="933.8" r="15.1"/><circle cx="1565.9" cy="927.7" r="15.1"/><circle cx="1567.6" cy="929.7" r="15.1"/><circle cx="1569.3" cy="918.3" r="15.1"/><circle cx="1571.0" cy="928.3" r="15.1"/><circle cx="1572.7" cy="934.3" r="15.1"/><circle cx="1574.4" cy="926.2" r="15.1"/><circle cx="1576.1" cy="922.5" r="15.1"/><circle cx="1577.8" cy="921.1" r="15.1"/><circle cx="1579.5" cy="929.1" r="15.1"/><circle cx="1581.1" cy="913.1" r="15.1"/><circle cx="1582.8" cy="916.4" r="15.1"/><circle cx="1584.5" cy="918.3" r="15.1"/><circle cx="1586.2" cy="918.7" r="15.1"/><circle cx="1587.9" cy="910.9" r="15.1"/><circle cx="1589.6" cy="913.7" r="15.1"/><circle cx="1591.3" cy="908.7" r="15.1"/><circle cx="1593.0" cy="908.8" r="15.1"/><circle cx="1594.7" cy="905.0" r="15.1"/><circle cx="1596.4" cy="897.0" r="15.1"/><circle cx="1598.1" cy="899.1" r="15.1"/><circle cx="1599.7" cy="899.0" r="15.1"/><circle cx="1601.4" cy="884.9" r="15.1"/><circle cx="1603.1" cy="885.5" r="15.1"/><circle cx="1604.8" cy="887.4" r="15.1"/><circle cx="1606.5" cy="875.0" r="15.1"/><circle cx="1608.2" cy="879.1" r="15.1"/><circle cx="1609.9" cy="869.4" r="15.1"/><circle cx="1611.6" cy="878.8" r="15.1"/><circle cx="1613.3" cy="883.1" r="15.1"/><circle cx="1615.0" cy="880.4" r="15.1"/><circle cx="1616.7" cy="868.2" r="15.1"/><circle cx="1618.3" cy="873.9" r="15.1"/><circle cx="1620.0" cy="871.2" r="15.1"/><circle cx="1621.7" cy="871.9" r="15.1"/><circle cx="1623.4" cy="880.9" r="15.1"/><circle cx="1625.1" cy="867.0" r="15.1"/><circle cx="1626.8" cy="882.8" r="15.1"/><circle cx="1628.5" cy="880.1" r="15.1"/><circle cx="1630.2" cy="891.7" r="15.1"/><circle cx="1631.9" cy="888.2" r="15.1"/><circle cx="1633.6" cy="886.6" r="15.1"/><circle cx="1635.3" cy="895.0" r="15.1"/><circle cx="1637.0" cy="900.7" r="15.1"/><circle cx="1638.6" cy="900.0" r="15.1"/><circle cx="1640.3" cy="905.9" r="15.1"/><circle cx="1642.0" cy="904.3" r="15.1"/><circle cx="1643.7" cy="899.7" r="15.1"/><circle cx="1645.4" cy="920.5" r="15.1"/><circle cx="1647.1" cy="922.7" r="15.1"/><circle cx="1648.8" cy="922.7" r="15.1"/><circle cx="1650.5" cy="924.9" r="15.1"/><circle cx="1652.2" cy="932.2" r="15.1"/><circle cx="1653.9" cy="925.2" r="15.1"/><circle cx="1655.6" cy="924.9" r="15.1"/><circle cx="1657.2" cy="928.6" r="15.1"/><circle cx="1658.9" cy="936.9" r="15.1"/><circle cx="1660.6" cy="923.4" r="15.1"/><circle cx="1662.3" cy="937.9" r="15.1"/><circle cx="1664.0" cy="927.5" r="15.1"/><circle cx="1665.7" cy="924.8" r="15.1"/><circle cx="1667.4" cy="938.7" r="15.1"/><circle cx="1669.1" cy="932.3" r="15.1"/><circle cx="1670.8" cy="926.8" r="15.1"/><circle cx="1672.5" cy="933.0" r="15.1"/><circle cx="1674.2" cy="941.1" r="15.1"/><circle cx="1675.8" cy="943.5" r="15.1"/><circle cx="1677.5" cy="935.6" r="15.1"/><circle cx="1679.2" cy="941.0" r="15.1"/><circle cx="1680.9" cy="943.5" r="15.1"/><circle cx="1682.6" cy="936.7" r="15.1"/><circle cx="1684.3" cy="943.0" r="15.1"/><circle cx="1686.0" cy="941.5" r="15.1"/><circle cx="1687.7" cy="939.1" r="15.1"/><circle cx="1689.4" cy="939.4" r="15.1"/><circle cx="1691.1" cy="942.4" r="15.1"/><circle cx="1692.8" cy="942.3" r="15.1"/><circle cx="1694.4" cy="939.3" r="15.1"/><circle cx="1696.1" cy="940.6" r="15.1"/><circle cx="1697.8" cy="949.5" r="15.1"/><circle cx="1699.5" cy="945.0" r="15.1"/><circle cx="1701.2" cy="949.2" r="15.1"/><circle cx="1702.9" cy="951.5" r="15.1"/><circle cx="1704.6" cy="948.7" r="15.1"/><circle cx="1706.3" cy="958.6" r="15.1"/><circle cx="1708.0" cy="942.4" r="15.1"/><circle cx="1709.7" cy="952.7" r="15.1"/><circle cx="1711.4" cy="947.8" r="15.1"/><circle cx="1713.0" cy="960.3" r="15.1"/><circle cx="1714.7" cy="959.5" r="15.1"/><circle cx="1716.4" cy="939.4" r="15.1"/><circle cx="1718.1" cy="944.8" r="15.1"/><circle cx="1719.8" cy="953.6" r="15.1"/><circle cx="1721.5" cy="954.2" r="15.1"/><circle cx="1723.2" cy="953.7" r="15.1"/><circle cx="1724.9" cy="949.0" r="15.1"/><circle cx="1726.6" cy="951.5" r="15.1"/><circle cx="1728.3" cy="952.0" r="15.1"/><circle cx="1730.0" cy="947.4" r="15.1"/><circle cx="1731.7" cy="952.9" r="15.1"/><circle cx="1733.3" cy="934.4" r="15.1"/><circle cx="1735.0" cy="950.0" r="15.1"/><circle cx="1736.7" cy="940.7" r="15.1"/><circle cx="1738.4" cy="951.6" r="15.1"/><circle cx="1740.1" cy="945.0" r="15.1"/><circle cx="1741.8" cy="941.4" r="15.1"/><circle cx="1743.5" cy="948.3" r="15.1"/><circle cx="1745.2" cy="941.3" r="15.1"/><circle cx="1746.9" cy="941.3" r="15.1"/><circle cx="1748.6" cy="937.8" r="15.1"/><circle cx="1750.3" cy="946.6" r="15.1"/><circle cx="1751.9" cy="949.9" r="15.1"/><circle cx="1753.6" cy="953.2" r="15.1"/><circle cx="1755.3" cy="947.1" r="15.1"/><circle cx="1757.0" cy="953.7" r="15.1"/><circle cx="1758.7" cy="947.8" r="15.1"/><circle cx="1760.4" cy="946.7" r="15.1"/><circle cx="1762.1" cy="949.6" r="15.1"/><circle cx="1763.8" cy="951.5" r="15.1"/><circle cx="1765.5" cy="943.1" r="15.1"/><circle cx="1767.2" cy="943.0" r="15.1"/><circle cx="1768.9" cy="943.0" r="15.1"/><circle cx="1770.5" cy="944.1" r="15.1"/><circle cx="1772.2" cy="938.5" r="15.1"/><circle cx="1773.9" cy="949.0" r="15.1"/><circle cx="1775.6" cy="941.0" r="15.1"/><circle cx="1777.3" cy="945.6" r="15.1"/><circle cx="1779.0" cy="938.4" r="15.1"/><circle cx="1780.7" cy="944.8" r="15.1"/><circle cx="1782.4" cy="944.8" r="15.1"/><circle cx="1784.1" cy="940.1" r="15.1"/><circle cx="1785.8" cy="953.3" r="15.1"/><circle cx="1787.5" cy="943.8" r="15.1"/><circle cx="1789.1" cy="950.9" r="15.1"/><circle cx="1790.8" cy="945.5" r="15.1"/><circle cx="1792.5" cy="935.6" r="15.1"/><circle cx="1794.2" cy="936.2" r="15.1"/><circle cx="1795.9" cy="939.7" r="15.1"/><circle cx="1797.6" cy="936.6" r="15.1"/><circle cx="1799.3" cy="935.7" r="15.1"/><circle cx="1801.0" cy="933.1" r="15.1"/><circle cx="1802.7" cy="924.2" r="15.1"/><circle cx="1804.4" cy="932.3" r="15.1"/><circle cx="1806.1" cy="920.7" r="15.1"/><circle cx="1807.8" cy="934.3" r="15.1"/><circle cx="1809.4" cy="927.6" r="15.1"/><circle cx="1811.1" cy="926.9" r="15.1"/><circle cx="1812.8" cy="928.9" r="15.1"/><circle cx="1814.5" cy="930.6" r="15.1"/><circle cx="1816.2" cy="919.8" r="15.1"/><circle cx="1817.9" cy="916.4" r="15.1"/><circle cx="1819.6" cy="918.4" r="15.1"/><circle cx="1821.3" cy="911.3" r="15.1"/><circle cx="1823.0" cy="915.6" r="15.1"/><circle cx="1824.7" cy="928.0" r="15.1"/><circle cx="1826.4" cy="911.6" r="15.1"/><circle cx="1828.0" cy="919.2" r="15.1"/><circle cx="1829.7" cy="906.6" r="15.1"/><circle cx="1831.4" cy="914.7" r="15.1"/><circle cx="1833.1" cy="910.4" r="15.1"/><circle cx="1834.8" cy="911.2" r="15.1"/><circle cx="1836.5" cy="914.3" r="15.1"/></g>
<path d="M145.40 908.6L147.40 908.6L149.40 908.7L151.40 908.9L153.40 909.1L155.40 909.3L157.40 909.5L159.40 909.8L161.40 910.2L163.40 910.8L165.40 911.6L167.40 912.4L169.40 913.3L171.40 914.1L173.40 914.9L175.40 915.6L177.40 916.4L179.40 917.1L181.40 917.8L183.40 918.4L185.40 919.1L187.40 919.6L189.40 920.1L191.40 920.7L193.40 921.2L195.40 921.7L197.40 922.1L199.40 922.3L201.40 922.4L203.40 922.0L205.40 921.1L207.40 919.9L209.40 917.4L210.98 914.2L212.46 911.6L214.46 909.9L216.46 908.8L218.46 908.2L220.46 908.6L222.46 909.9L224.46 911.4L226.46 912.7L228.46 914.3L230.46 915.9L232.46 917.1L234.46 917.5L236.46 917.5L238.46 917.5L240.46 917.5L242.46 917.5L244.46 917.5L246.46 917.4L248.46 916.7L250.46 915.6L252.46 914.3L254.46 912.9L256.46 910.6L258.46 908.1L260.46 907.6L262.46 908.5L264.46 909.6L266.46 909.1L268.46 906.3L270.17 903.3L272.00 900.9L274.00 899.3L276.00 897.8L278.00 896.8L280.00 896.4L282.00 898.7L283.66 901.9L285.31 904.2L287.31 905.9L289.31 907.1L291.31 907.4L293.31 903.8L294.51 900.8L295.76 898.2L297.76 896.7L299.76 895.8L301.76 895.2L303.76 894.6L305.76 894.0L307.76 892.9L309.76 891.2L311.76 888.8L313.76 886.2L315.76 883.7L317.76 881.6L319.76 880.1L321.76 879.0L323.76 878.1L325.76 877.2L327.76 876.3L329.76 875.3L331.76 874.2L333.76 873.3L335.76 872.3L337.76 871.2L339.76 870.0L341.76 868.6L343.76 866.9L345.76 864.8L347.76 862.3L349.76 859.2L351.56 856.0L353.14 852.8L354.42 849.5L355.50 846.4L356.45 843.2L357.31 840.1L358.10 837.1L358.83 833.9L359.46 830.8L360.02 827.7L360.52 824.6L360.98 821.6L361.42 818.5L361.84 815.5L362.24 812.5L362.64 809.4L363.02 806.4L363.39 803.4L363.72 800.3L364.03 797.3L364.32 794.3L364.61 791.3L364.89 788.3L365.17 785.3L365.45 782.3L365.73 779.3L366.01 776.3L366.30 773.3L366.60 770.3L366.92 767.3L367.24 764.3L367.56 761.3L367.87 758.3L368.16 755.2L368.42 752.2L368.66 749.2L368.89 746.2L369.11 743.2L369.32 740.2L369.52 737.2L369.72 734.2L369.91 731.2L370.09 728.2L370.27 725.2L370.45 722.2L370.62 719.2L370.79 716.2L370.95 713.2L371.12 710.2L371.28 707.2L371.43 704.2L371.59 701.2L371.74 698.2L371.89 695.2L372.04 692.2L372.19 689.3L372.34 686.3L372.48 683.3L372.62 680.3L372.77 677.3L372.91 674.3L373.05 671.3L373.18 668.3L373.32 665.3L373.46 662.3L373.59 659.3L373.73 656.3L373.86 653.3L374.00 650.3L374.13 647.3L374.26 644.3L374.39 641.3L374.52 638.3L374.65 635.3L374.78 632.3L374.91 629.3L375.04 626.3L375.17 623.3L375.30 620.3L375.42 617.3L375.55 614.4L375.68 611.4L375.80 608.4L375.93 605.4L376.06 602.4L376.18 599.4L376.31 596.4L376.44 593.4L376.56 590.4L376.69 587.4L376.82 584.4L376.94 581.4L377.07 578.4L377.19 575.4L377.32 572.4L377.44 569.4L377.56 566.4L377.68 563.4L377.80 560.4L377.92 557.3L378.04 554.3L378.16 551.2L378.28 548.1L378.40 544.9L378.52 541.7L378.64 538.6L378.76 535.3L378.88 532.1L379.00 528.8L379.12 525.6L379.24 522.3L379.36 519.0L379.48 515.6L379.60 512.3L379.72 508.9L379.84 505.5L379.96 502.1L380.08 498.7L380.20 495.3L380.32 491.8L380.44 488.3L380.56 484.9L380.68 481.4L380.80 477.9L380.92 474.4L381.04 470.8L381.16 467.3L381.28 463.7L381.40 460.2L381.52 456.6L381.64 453.1L381.76 449.5L381.88 445.9L382.00 442.3L382.12 438.7L382.24 435.1L382.36 431.5L382.48 427.8L382.60 424.2L382.72 420.6L382.84 417.0L382.96 413.3L383.08 409.7L383.20 406.1L383.32 402.4L383.44 398.8L383.56 395.1L383.68 391.4L383.80 387.6L383.92 383.8L384.04 380.0L384.16 376.1L384.28 372.2L384.40 368.3L384.52 364.3L384.64 360.4L384.76 356.4L384.88 352.4L385.00 348.5L385.12 344.5L385.24 340.5L385.36 336.5L385.48 332.5L385.60 328.6L385.72 324.7L385.84 320.7L385.96 316.9L386.08 313.0L386.20 309.2L386.32 305.4L386.44 301.6L386.56 297.9L386.68 294.2L386.80 290.5L386.92 286.7L387.04 282.8L387.16 279.0L387.28 275.1L387.40 271.2L387.52 267.4L387.64 263.6L387.76 259.8L387.88 256.2L388.00 252.6L388.12 249.2L388.24 245.8L388.36 242.7L388.48 239.6L388.61 236.5L388.75 233.5L388.90 230.5L389.06 227.4L389.23 224.4L389.40 221.4L389.58 218.4L389.77 215.4L389.98 212.4L390.19 209.4L390.41 206.4L390.65 203.4L390.90 200.4L391.15 197.4L391.42 194.5L391.69 191.5L392.00 188.6L392.37 185.8L392.89 182.9L393.48 180.2L394.45 179.4L395.56 183.9L396.21 186.8L396.88 189.9L397.45 193.1L397.91 196.3L398.29 199.4L398.60 202.7L398.81 205.7L398.98 208.7L399.14 211.6L399.28 214.6L399.42 217.6L399.56 220.6L399.69 223.6L399.83 226.6L399.97 229.6L400.11 232.6L400.24 235.6L400.38 238.6L400.51 241.5L400.63 244.5L400.76 247.5L400.88 250.5L401.00 253.5L401.12 256.5L401.24 259.5L401.36 262.6L401.48 265.7L401.60 268.8L401.72 271.9L401.84 275.0L401.96 278.1L402.08 281.2L402.20 284.2L402.32 287.3L402.44 290.3L402.56 293.3L402.68 296.3L402.81 299.3L402.93 302.3L403.05 305.3L403.17 308.3L403.29 311.3L403.41 314.3L403.54 317.3L403.66 320.3L403.78 323.3L403.90 326.3L404.02 329.3L404.14 332.3L404.26 335.3L404.38 338.3L404.50 341.3L404.62 344.3L404.74 347.3L404.86 350.3L404.99 353.3L405.11 356.3L405.23 359.3L405.36 362.3L405.48 365.3L405.61 368.4L405.73 371.4L405.86 374.4L405.99 377.4L406.12 380.4L406.25 383.4L406.38 386.4L406.52 389.4L406.65 392.4L406.79 395.4L406.93 398.4L407.07 401.4L407.21 404.4L407.35 407.4L407.50 410.5L407.64 413.5L407.79 416.5L407.93 419.5L408.08 422.5L408.23 425.5L408.38 428.5L408.53 431.5L408.68 434.5L408.83 437.5L408.99 440.5L409.14 443.5L409.30 446.5L409.45 449.5L409.61 452.5L409.77 455.5L409.93 458.5L410.09 461.5L410.25 464.5L410.41 467.5L410.57 470.5L410.73 473.5L410.90 476.5L411.06 479.5L411.22 482.5L411.39 485.5L411.55 488.5L411.72 491.5L411.89 494.5L412.05 497.5L412.22 500.5L412.39 503.5L412.56 506.5L412.72 509.5L412.89 512.5L413.06 515.5L413.23 518.5L413.40 521.5L413.56 524.5L413.73 527.5L413.90 530.5L414.07 533.5L414.24 536.5L414.40 539.5L414.57 542.5L414.74 545.5L414.90 548.5L415.07 551.5L415.23 554.5L415.40 557.5L415.56 560.5L415.73 563.5L415.89 566.5L416.05 569.5L416.21 572.5L416.38 575.5L416.54 578.5L416.69 581.5L416.85 584.5L417.01 587.5L417.16 590.5L417.31 593.5L417.46 596.5L417.60 599.5L417.75 602.5L417.89 605.4L418.04 608.4L418.18 611.4L418.32 614.4L418.46 617.4L418.60 620.4L418.74 623.4L418.88 626.4L419.02 629.4L419.16 632.4L419.30 635.4L419.43 638.4L419.57 641.4L419.71 644.4L419.85 647.4L419.99 650.4L420.13 653.4L420.27 656.4L420.41 659.4L420.55 662.4L420.69 665.4L420.83 668.4L420.97 671.5L421.12 674.5L421.27 677.5L421.41 680.5L421.56 683.5L421.71 686.5L421.86 689.5L422.02 692.5L422.17 695.5L422.33 698.5L422.49 701.5L422.66 704.5L422.83 707.5L423.00 710.5L423.18 713.5L423.36 716.5L423.55 719.5L423.74 722.5L423.94 725.5L424.16 728.5L424.38 731.5L424.61 734.5L424.87 737.5L425.14 740.4L425.44 743.4L425.76 746.4L426.11 749.3L426.48 752.3L426.87 755.2L427.29 758.2L427.72 761.2L428.17 764.2L428.62 767.2L429.07 770.2L429.49 773.2L429.90 776.3L430.30 779.3L430.69 782.3L431.08 785.3L431.47 788.3L431.87 791.3L432.26 794.3L432.67 797.2L433.08 800.2L433.50 803.2L433.94 806.2L434.40 809.1L434.89 812.0L435.43 815.0L435.97 818.0L436.51 821.0L437.07 823.9L437.66 826.8L438.32 829.7L439.13 832.3L440.33 834.8L441.95 837.2L443.95 836.8L445.95 832.5L447.07 829.4L448.16 825.8L448.86 822.6L449.45 819.5L449.99 816.5L450.51 813.4L451.01 810.4L451.51 807.4L452.02 804.5L452.56 801.5L453.14 798.7L453.80 795.9L454.62 792.8L455.41 789.8L456.18 786.8L456.99 783.9L457.87 781.1L458.92 778.4L460.45 776.6L462.45 778.1L464.29 782.0L465.43 785.2L466.43 788.3L467.39 791.3L468.26 794.8L468.88 797.9L469.43 801.0L469.93 804.1L470.40 807.1L470.86 810.1L471.31 813.1L471.76 816.1L472.22 819.1L472.69 822.0L473.19 825.0L473.72 827.9L474.32 830.9L474.89 833.9L475.45 837.0L476.00 839.9L476.56 842.9L477.16 845.8L477.82 848.7L478.61 851.3L479.72 853.5L481.72 855.6L483.72 856.5L485.72 855.2L487.72 851.6L489.04 848.4L490.20 845.4L491.33 842.0L492.15 838.8L492.82 835.6L493.42 832.6L493.97 829.5L494.50 826.5L495.02 823.5L495.52 820.4L496.01 817.4L496.51 814.4L497.02 811.5L497.53 808.5L498.07 805.5L498.63 802.5L499.16 799.5L499.67 796.4L500.15 793.4L500.63 790.4L501.11 787.4L501.59 784.4L502.08 781.5L502.60 778.5L503.16 775.6L503.78 772.8L504.52 770.1L505.56 767.6L506.92 764.8L508.61 762.5L510.61 762.8L512.61 765.7L514.14 769.0L515.43 772.2L516.36 775.6L517.03 778.8L517.63 781.9L518.18 784.9L518.71 787.9L519.24 790.9L519.78 793.9L520.33 796.8L520.92 799.8L521.54 802.8L522.16 805.8L522.76 808.8L523.35 811.9L523.92 814.9L524.45 818.0L524.94 821.1L525.37 824.2L525.78 827.2L526.17 830.2L526.55 833.2L526.92 836.2L527.30 839.2L527.67 842.2L528.06 845.2L528.46 848.2L528.88 851.1L529.34 854.0L529.85 856.9L530.47 859.8L531.12 862.8L531.79 865.7L532.50 868.6L533.24 871.6L534.04 874.5L534.91 877.4L535.89 880.2L537.03 882.9L538.50 885.5L540.36 888.4L542.36 890.9L544.36 892.8L546.36 894.1L548.36 894.9L550.36 895.6L552.36 896.1L554.36 896.4L556.36 896.3L558.36 895.7L560.36 894.4L562.36 892.8L564.36 890.9L566.36 888.3L568.11 884.9L569.52 881.8L570.82 878.8L572.09 875.8L573.40 872.9L574.75 869.6L575.90 866.6L577.00 863.6L578.13 860.7L579.37 857.9L580.93 855.5L582.93 853.5L584.93 851.9L586.93 851.0L588.93 851.2L590.93 853.0L592.93 855.6L594.93 858.6L596.49 862.2L597.62 865.3L598.64 868.4L599.64 871.4L600.68 874.3L601.82 877.0L603.25 880.0L604.67 883.0L606.15 885.8L607.97 888.2L609.97 889.1L611.97 889.7L613.97 890.1L615.97 890.2L617.97 889.3L619.97 887.7L621.97 885.5L623.97 883.0L625.71 879.4L626.95 876.3L628.12 873.3L629.36 870.5L630.83 867.9L632.83 865.2L634.83 862.8L636.83 861.1L638.83 859.9L640.83 858.9L642.83 857.8L644.83 856.5L646.83 855.0L648.83 853.0L650.83 850.4L652.64 846.6L653.80 843.5L654.83 840.4L655.79 837.3L656.64 834.1L657.39 831.0L658.10 828.0L658.80 825.0L659.51 821.9L660.17 818.9L660.81 815.9L661.44 812.9L662.08 809.9L662.74 807.0L663.46 804.1L664.26 801.2L665.14 798.3L666.08 795.4L667.08 792.4L668.13 789.5L669.21 786.5L670.29 783.5L671.45 780.6L672.70 777.7L673.94 774.6L675.09 771.4L676.11 768.3L677.03 765.2L677.88 762.1L678.68 759.0L679.42 756.0L680.12 752.9L680.78 749.8L681.38 746.7L681.93 743.7L682.46 740.6L682.96 737.6L683.46 734.6L683.95 731.6L684.46 728.6L684.97 725.5L685.42 722.4L685.78 719.2L686.08 716.2L686.34 713.1L686.58 710.1L686.79 707.1L687.00 704.1L687.19 701.1L687.37 698.1L687.55 695.1L687.72 692.1L687.88 689.1L688.04 686.1L688.19 683.1L688.35 680.2L688.49 677.2L688.64 674.2L688.78 671.2L688.92 668.2L689.06 665.2L689.19 662.2L689.33 659.2L689.46 656.2L689.59 653.2L689.72 650.3L689.85 647.3L689.97 644.3L690.10 641.3L690.23 638.3L690.35 635.3L690.47 632.3L690.60 629.3L690.72 626.3L690.84 623.3L690.96 620.3L691.08 617.3L691.21 614.3L691.33 611.3L691.45 608.3L691.57 605.3L691.69 602.3L691.81 599.3L691.93 596.3L692.05 593.3L692.17 590.3L692.29 587.3L692.41 584.3L692.53 581.3L692.66 578.3L692.78 575.3L692.90 572.3L693.02 569.2L693.14 566.1L693.26 562.9L693.38 559.7L693.50 556.4L693.62 553.1L693.74 549.8L693.86 546.4L693.98 543.0L694.10 539.5L694.22 536.0L694.34 532.5L694.46 528.9L694.58 525.4L694.70 521.8L694.82 518.1L694.94 514.5L695.06 510.8L695.18 507.0L695.30 503.3L695.42 499.6L695.54 495.8L695.66 492.0L695.78 488.2L695.90 484.3L696.02 480.5L696.14 476.6L696.26 472.8L696.38 468.9L696.50 465.0L696.62 461.1L696.74 457.2L696.86 453.3L696.98 449.4L697.10 445.5L697.22 441.6L697.34 437.7L697.46 433.8L697.58 429.9L697.70 425.9L697.82 422.0L697.94 418.2L698.06 414.3L698.18 410.4L698.30 406.5L698.42 402.7L698.54 398.8L698.66 395.0L698.78 391.1L698.90 387.2L699.02 383.3L699.14 379.3L699.26 375.3L699.38 371.4L699.50 367.4L699.62 363.4L699.74 359.3L699.86 355.3L699.98 351.3L700.10 347.2L700.22 343.2L700.34 339.1L700.46 335.1L700.58 331.0L700.70 327.0L700.82 322.9L700.94 318.9L701.06 314.8L701.18 310.8L701.30 306.8L701.42 302.8L701.54 298.8L701.66 294.8L701.78 290.8L701.90 286.8L702.02 282.8L702.14 278.7L702.26 274.6L702.38 270.6L702.50 266.5L702.62 262.4L702.74 258.4L702.86 254.3L702.98 250.3L703.10 246.3L703.22 242.3L703.34 238.3L703.46 234.4L703.58 230.5L703.70 226.7L703.82 222.8L703.94 219.1L704.06 215.4L704.18 211.7L704.30 208.1L704.42 204.4L704.54 200.7L704.66 197.0L704.78 193.3L704.90 189.6L705.02 185.9L705.14 182.2L705.26 178.6L705.38 175.1L705.50 171.6L705.62 168.2L705.74 164.9L705.86 161.7L705.98 158.6L706.10 155.6L706.23 152.5L706.38 149.5L706.53 146.5L706.69 143.4L706.86 140.4L707.04 137.4L707.23 134.4L707.43 131.4L707.64 128.4L707.86 125.4L708.09 122.4L708.33 119.4L708.57 116.4L708.82 113.4L709.07 110.4L709.33 107.5L709.59 104.5L709.88 101.5L710.19 98.6L710.57 95.8L711.05 92.8L711.55 90.0L712.25 88.0L714.25 97.8L714.70 100.9L715.10 103.9L715.46 107.0L715.80 110.0L716.12 113.1L716.41 116.1L716.68 119.1L716.92 122.2L717.14 125.2L717.35 128.2L717.55 131.2L717.75 134.2L717.95 137.2L718.15 140.2L718.35 143.2L718.54 146.2L718.75 149.2L718.95 152.2L719.15 155.2L719.35 158.2L719.54 161.2L719.74 164.2L719.93 167.2L720.13 170.2L720.32 173.2L720.51 176.2L720.70 179.2L720.88 182.2L721.07 185.2L721.25 188.2L721.43 191.2L721.62 194.2L721.79 197.2L721.97 200.2L722.15 203.2L722.32 206.2L722.49 209.2L722.67 212.2L722.84 215.2L723.00 218.2L723.17 221.1L723.33 224.1L723.50 227.1L723.66 230.1L723.82 233.1L723.98 236.1L724.14 239.1L724.29 242.1L724.45 245.1L724.61 248.1L724.76 251.1L724.91 254.1L725.06 257.1L725.22 260.1L725.37 263.1L725.52 266.1L725.66 269.1L725.81 272.1L725.96 275.1L726.11 278.1L726.25 281.1L726.40 284.1L726.54 287.1L726.68 290.1L726.83 293.1L726.97 296.1L727.11 299.1L727.25 302.1L727.39 305.1L727.52 308.0L727.66 311.0L727.79 314.0L727.92 317.0L728.05 320.0L728.18 323.0L728.31 326.0L728.44 329.0L728.57 332.0L728.69 335.0L728.82 338.0L728.95 341.0L729.07 344.0L729.20 347.0L729.32 350.0L729.45 353.0L729.58 356.0L729.70 359.0L729.83 362.0L729.96 365.0L730.08 368.0L730.21 371.0L730.34 374.0L730.47 377.0L730.60 380.0L730.73 383.0L730.86 386.0L731.00 389.0L731.13 392.1L731.27 395.1L731.41 398.1L731.55 401.1L731.69 404.1L731.83 407.1L731.98 410.1L732.12 413.1L732.27 416.1L732.41 419.1L732.56 422.1L732.70 425.1L732.85 428.1L733.00 431.1L733.15 434.1L733.30 437.1L733.45 440.1L733.60 443.1L733.75 446.1L733.90 449.1L734.05 452.1L734.20 455.1L734.36 458.1L734.51 461.1L734.66 464.1L734.82 467.1L734.97 470.1L735.13 473.1L735.28 476.1L735.44 479.1L735.60 482.1L735.75 485.1L735.91 488.1L736.07 491.1L736.23 494.1L736.38 497.1L736.54 500.1L736.70 503.1L736.86 506.1L737.02 509.1L737.17 512.1L737.33 515.1L737.49 518.1L737.65 521.1L737.81 524.1L737.97 527.1L738.12 530.1L738.28 533.1L738.44 536.1L738.60 539.1L738.75 542.1L738.91 545.1L739.07 548.1L739.23 551.1L739.38 554.1L739.54 557.1L739.69 560.1L739.85 563.1L740.00 566.1L740.16 569.1L740.31 572.1L740.47 575.1L740.62 578.1L740.77 581.1L740.92 584.1L741.07 587.1L741.22 590.1L741.37 593.1L741.51 596.1L741.66 599.1L741.80 602.1L741.95 605.1L742.09 608.1L742.23 611.1L742.38 614.1L742.52 617.1L742.66 620.1L742.80 623.1L742.94 626.1L743.08 629.1L743.22 632.1L743.37 635.1L743.51 638.1L743.65 641.1L743.79 644.1L743.93 647.1L744.07 650.1L744.22 653.1L744.36 656.1L744.51 659.1L744.65 662.1L744.80 665.1L744.94 668.1L745.09 671.1L745.24 674.1L745.39 677.1L745.54 680.1L745.70 683.1L745.85 686.1L746.01 689.1L746.17 692.1L746.33 695.1L746.50 698.2L746.66 701.2L746.83 704.2L747.01 707.2L747.19 710.2L747.37 713.2L747.55 716.2L747.75 719.2L747.95 722.2L748.16 725.2L748.38 728.2L748.61 731.2L748.84 734.2L749.08 737.2L749.32 740.2L749.55 743.2L749.78 746.2L750.00 749.2L750.21 752.2L750.43 755.2L750.65 758.2L750.88 761.2L751.11 764.2L751.36 767.1L751.63 770.1L751.92 773.1L752.23 776.0L752.55 779.0L752.88 782.0L753.20 785.1L753.51 788.1L753.79 791.1L754.04 794.2L754.27 797.2L754.49 800.2L754.70 803.2L754.92 806.2L755.14 809.2L755.36 812.2L755.60 815.2L755.86 818.2L756.11 821.2L756.36 824.2L756.62 827.1L756.89 830.1L757.18 833.1L757.50 836.0L757.88 838.8L758.39 841.6L759.03 844.4L759.81 847.3L760.60 850.5L761.22 853.7L761.75 856.8L762.24 859.8L762.74 862.8L763.26 865.7L763.86 868.5L764.54 871.4L765.27 874.4L766.05 877.3L766.90 880.1L767.88 882.9L769.05 885.8L770.35 888.6L771.82 891.5L773.53 894.2L775.53 896.9L777.53 899.2L779.53 901.0L781.53 902.4L783.53 903.6L785.53 904.7L787.53 905.7L789.53 906.6L791.53 907.6L793.53 908.5L795.53 909.5L797.53 910.4L799.53 911.3L801.53 912.2L803.53 913.0L805.53 913.9L807.53 914.7L809.53 915.5L811.53 916.3L813.53 917.0L815.53 917.7L817.53 918.4L819.53 919.1L821.53 919.8L823.53 920.4L825.53 920.9L827.53 921.4L829.53 921.7L831.53 922.0L833.53 922.3L835.53 922.6L837.53 922.8L839.53 923.2L841.53 923.5L843.53 923.8L845.53 924.3L847.53 925.1L849.53 926.9L851.53 928.7L853.53 929.9L855.53 930.9L857.53 931.7L859.53 931.9L861.53 931.8L863.53 931.5L865.53 931.1L867.53 930.6L869.53 929.7L871.53 928.4L873.53 927.2L875.53 926.4L877.53 925.9L879.53 925.5L881.53 925.8L883.53 927.2L885.53 929.0L887.53 931.8L889.33 934.8L891.33 937.1L893.33 939.0L895.33 939.4L897.33 938.3L899.33 936.4L901.33 934.1L903.33 930.9L905.06 927.9L906.81 924.9L908.47 921.8L910.06 918.8L911.71 916.0L913.58 913.1L915.58 910.3L917.58 907.9L919.58 906.3L921.58 904.9L923.58 904.4L925.58 905.2L927.58 906.8L929.58 908.4L931.58 910.3L933.58 912.6L935.58 914.7L937.58 916.3L939.58 917.8L941.58 919.1L943.58 920.0L945.58 920.5L947.58 920.8L949.58 920.8L951.58 919.9L953.58 918.5L955.58 916.5L957.58 913.3L959.17 910.2L960.72 907.2L962.16 904.1L963.51 901.1L964.86 898.0L966.12 894.9L967.37 892.0L968.67 889.1L970.10 886.2L971.66 883.3L973.30 880.4L975.18 877.8L977.18 875.5L979.18 873.9L981.18 873.2L983.18 872.8L985.18 873.1L987.18 874.4L989.18 876.1L991.18 878.7L993.02 881.9L994.67 884.9L996.41 888.0L998.01 891.0L999.57 894.0L1001.17 897.0L1002.82 900.0L1004.45 902.9L1006.22 905.7L1008.22 908.3L1010.22 910.7L1012.22 912.4L1014.22 913.4L1016.22 914.3L1018.22 914.7L1020.22 914.5L1022.22 913.9L1024.22 913.1L1026.22 911.8L1028.22 909.6L1030.22 907.2L1032.22 904.4L1034.17 901.3L1035.94 898.2L1037.69 895.1L1039.31 892.1L1040.88 889.1L1042.46 886.1L1044.02 883.0L1045.51 880.1L1047.09 877.3L1048.99 874.7L1050.99 872.2L1052.99 870.4L1054.99 869.6L1056.99 869.0L1058.99 868.6L1060.99 868.7L1062.99 869.3L1064.99 870.3L1066.99 871.6L1068.99 874.1L1070.99 877.2L1072.87 880.3L1074.43 883.5L1075.83 886.6L1077.22 889.5L1078.75 892.5L1080.24 895.4L1081.81 898.2L1083.74 900.9L1085.74 903.3L1087.74 904.5L1089.74 903.7L1091.74 901.7L1093.74 899.1L1095.49 895.5L1096.77 892.4L1097.98 889.5L1099.25 886.6L1100.52 883.4L1101.70 880.4L1102.89 877.6L1104.22 874.8L1105.98 872.4L1107.98 870.2L1109.98 869.0L1111.98 868.8L1113.98 868.6L1115.98 868.7L1117.98 870.0L1119.98 872.1L1121.98 874.7L1123.79 877.9L1125.38 880.9L1127.07 884.0L1128.61 887.0L1130.19 889.9L1132.06 892.9L1134.00 895.5L1136.00 897.0L1138.00 897.8L1140.00 897.1L1142.00 895.9L1144.00 894.8L1146.00 893.7L1148.00 892.5L1150.00 891.3L1152.00 890.1L1154.00 888.9L1156.00 887.4L1158.00 885.7L1160.00 883.6L1162.00 881.5L1164.00 879.4L1166.00 877.3L1168.00 875.2L1170.00 873.6L1172.00 872.1L1174.00 870.8L1176.00 869.9L1178.00 869.4L1180.00 868.9L1182.00 868.6L1184.00 868.7L1186.00 869.2L1188.00 869.9L1190.00 870.9L1192.00 872.8L1194.00 875.4L1196.00 878.2L1198.00 881.2L1199.85 884.3L1201.66 887.2L1203.57 890.2L1205.45 893.2L1207.40 896.1L1209.40 898.8L1211.40 901.4L1213.40 903.8L1215.40 906.3L1217.40 908.6L1219.40 910.6L1221.40 912.4L1223.40 914.0L1225.40 915.2L1227.40 916.0L1229.40 916.7L1231.40 917.2L1233.40 917.6L1235.40 917.8L1237.40 918.0L1239.40 918.2L1241.40 918.4L1243.40 918.8L1245.40 919.3L1247.40 920.0L1249.40 920.9L1251.40 922.4L1253.40 924.4L1255.40 926.6L1257.40 928.7L1259.40 930.7L1261.40 932.8L1263.40 934.9L1265.40 937.0L1267.40 938.8L1269.40 940.5L1271.40 942.3L1273.40 944.0L1275.40 945.5L1277.40 946.7L1279.40 947.5L1281.40 948.0L1283.40 948.5L1285.40 948.9L1287.40 949.3L1289.40 949.5L1291.40 949.7L1293.40 949.7L1295.40 949.6L1297.40 949.6L1299.40 949.4L1301.40 949.2L1303.40 949.1L1305.40 948.9L1307.40 948.7L1309.40 948.5L1311.40 948.3L1313.40 948.0L1315.40 947.8L1317.40 947.5L1319.40 947.3L1321.40 947.1L1323.40 946.8L1325.40 946.7L1327.40 946.5L1329.40 946.3L1331.40 946.2L1333.40 946.0L1335.40 945.9L1337.40 945.7L1339.40 945.6L1341.40 945.4L1343.40 945.2L1345.40 945.0L1347.40 944.8L1349.40 944.6L1351.40 944.4L1353.40 944.2L1355.40 943.9L1357.40 943.6L1359.40 943.2L1361.40 942.6L1363.40 941.6L1365.40 940.2L1367.40 938.5L1369.40 936.7L1371.40 934.8L1373.40 933.0L1375.40 931.0L1377.40 928.8L1379.40 926.4L1381.40 924.0L1383.40 921.7L1385.40 919.7L1387.40 918.1L1389.40 916.5L1391.40 915.0L1393.40 913.7L1395.40 912.7L1397.40 912.1L1399.40 911.7L1401.40 911.4L1403.40 911.2L1405.40 911.0L1407.40 910.9L1409.40 910.9L1411.40 911.3L1413.40 912.0L1415.40 913.0L1417.40 914.0L1419.40 915.1L1421.40 916.2L1423.40 917.5L1425.40 919.0L1427.40 920.5L1429.40 922.1L1431.40 923.7L1433.40 925.1L1435.40 926.4L1437.40 927.6L1439.40 928.6L1441.40 929.7L1443.40 930.7L1445.40 931.7L1447.40 932.6L1449.40 933.6L1451.40 934.5L1453.40 935.4L1455.40 936.4L1457.40 937.4L1459.40 938.4L1461.40 939.3L1463.40 940.2L1465.40 941.1L1467.40 941.9L1469.40 942.6L1471.40 943.2L1473.40 943.8L1475.40 944.4L1477.40 945.0L1479.40 945.5L1481.40 945.8L1483.40 946.0L1485.40 946.0L1487.40 946.0L1489.40 946.0L1491.40 946.0L1493.40 946.0L1495.40 946.0L1497.40 946.0L1499.40 945.9L1501.40 945.5L1503.40 944.9L1505.40 944.2L1507.40 943.4L1509.40 942.5L1511.40 941.8L1513.40 940.9L1515.40 940.0L1517.40 939.0L1519.40 937.9L1521.40 936.8L1523.40 935.7L1525.40 934.7L1527.40 933.6L1529.40 932.6L1531.40 931.6L1533.40 930.5L1535.40 929.5L1537.40 928.5L1539.40 927.5L1541.40 926.6L1543.40 925.8L1545.40 925.0L1547.40 924.3L1549.40 923.6L1551.40 922.9L1553.40 922.2L1555.40 921.5L1557.40 920.7L1559.40 919.9L1561.40 919.0L1563.40 918.0L1565.40 916.9L1567.40 915.8L1569.40 914.6L1571.40 913.4L1573.40 912.1L1575.40 910.8L1577.40 909.3L1579.40 907.6L1581.40 905.9L1583.40 904.1L1585.40 902.3L1587.40 900.6L1589.40 899.1L1591.40 897.5L1593.40 895.9L1595.40 894.3L1597.40 892.9L1599.40 891.8L1601.40 891.0L1603.40 890.5L1605.40 890.1L1607.40 889.7L1609.40 889.4L1611.40 889.2L1613.40 889.2L1615.40 889.6L1617.40 890.3L1619.40 891.3L1621.40 892.4L1623.40 893.6L1625.40 894.8L1627.40 896.3L1629.40 898.0L1631.40 899.9L1633.40 901.9L1635.40 903.9L1637.40 905.9L1639.40 907.9L1641.40 909.9L1643.40 911.9L1645.40 914.0L1647.40 916.1L1649.40 918.1L1651.40 919.9L1653.40 921.5L1655.40 922.9L1657.40 924.2L1659.40 925.4L1661.40 926.6L1663.40 927.8L1665.40 929.1L1667.40 930.4L1669.40 931.6L1671.40 932.9L1673.40 934.1L1675.40 935.2L1677.40 936.3L1679.40 937.2L1681.40 938.1L1683.40 938.9L1685.40 939.8L1687.40 940.6L1689.40 941.4L1691.40 942.1L1693.40 942.7L1695.40 943.3L1697.40 943.7L1699.40 943.9L1701.40 944.1L1703.40 944.3L1705.40 944.5L1707.40 944.6L1709.40 944.7L1711.40 944.9L1713.40 944.9L1715.40 945.0L1717.40 945.0L1719.40 945.0L1721.40 944.9L1723.40 944.8L1725.40 944.7L1727.40 944.5L1729.40 944.3L1731.40 944.1L1733.40 943.8L1735.40 943.6L1737.40 943.4L1739.40 943.2L1741.40 943.0L1743.40 942.7L1745.40 942.5L1747.40 942.3L1749.40 942.0L1751.40 941.7L1753.40 941.4L1755.40 941.1L1757.40 940.9L1759.40 940.6L1761.40 940.3L1763.40 940.0L1765.40 939.7L1767.40 939.3L1769.40 939.0L1771.40 938.7L1773.40 938.3L1775.40 938.0L1777.40 937.7L1779.40 937.3L1781.40 937.0L1783.40 936.6L1785.40 936.3L1787.40 935.9L1789.40 935.5L1791.40 935.1L1793.40 934.6L1795.40 934.2L1797.40 933.9L1799.40 933.6L1801.40 933.4L1803.40 933.2L1805.40 933.1L1807.40 932.9L1809.40 932.8L1811.40 932.7L1813.40 932.6L1815.40 932.6L1817.40 932.6L1819.40 932.7L1821.40 933.0L1823.40 933.4L1825.40 933.8L1827.40 934.3L1829.40 934.8L1831.40 935.2L1833.40 935.7L1835.40 936.1L1836.50 936.4" fill="none" stroke="#000" stroke-width="11.5" stroke-linejoin="round" stroke-linecap="butt"/>
<g fill="#00ba00"><rect x="215.5" y="1050.8" width="4.4" height="47.5"/><rect x="274.6" y="1050.8" width="6.0" height="47.5"/><rect x="333.8" y="1050.8" width="4.4" height="47.5"/><rect x="372.1" y="1050.8" width="4.4" height="47.5"/><rect x="386.4" y="1050.8" width="6.0" height="47.5"/><rect x="396.4" y="1050.8" width="6.0" height="47.5"/><rect x="412.3" y="1050.8" width="4.4" height="47.5"/><rect x="459.5" y="1050.8" width="5.4" height="47.5"/><rect x="502.2" y="1050.8" width="6.0" height="47.5"/><rect x="513.4" y="1050.8" width="6.0" height="47.5"/><rect x="578.7" y="1050.8" width="6.0" height="47.5"/><rect x="591.0" y="1050.8" width="6.0" height="47.5"/><rect x="637.7" y="1050.8" width="6.0" height="47.5"/><rect x="650.2" y="1050.8" width="6.0" height="47.5"/><rect x="668.4" y="1050.8" width="6.2" height="47.5"/><rect x="706.7" y="1050.8" width="7.0" height="47.5"/><rect x="723.9" y="1050.8" width="13.5" height="47.5"/><rect x="742.5" y="1050.8" width="7.2" height="47.5"/><rect x="792.7" y="1050.8" width="7.0" height="47.5"/><rect x="818.5" y="1050.8" width="7.2" height="47.5"/><rect x="844.3" y="1050.8" width="7.4" height="47.5"/><rect x="879.2" y="1050.8" width="10.9" height="47.5"/><rect x="911.0" y="1050.8" width="25.8" height="47.5"/><rect x="967.7" y="1050.8" width="7.2" height="47.5"/><rect x="982.2" y="1050.8" width="7.4" height="47.5"/><rect x="998.2" y="1050.8" width="7.4" height="47.5"/><rect x="1024.0" y="1050.8" width="7.4" height="47.5"/><rect x="1051.2" y="1050.8" width="14.8" height="47.5"/><rect x="1068.4" y="1050.8" width="7.6" height="47.5"/><rect x="1090.7" y="1050.8" width="7.4" height="47.5"/><rect x="1103.9" y="1050.8" width="8.2" height="47.5"/><rect x="1112.9" y="1050.8" width="4.3" height="47.5"/><rect x="1117.9" y="1050.8" width="3.7" height="47.5"/><rect x="1134.8" y="1050.8" width="4.0" height="47.5"/><rect x="1140.0" y="1050.8" width="14.8" height="47.5"/><rect x="1169.2" y="1050.8" width="7.7" height="47.5"/><rect x="1185.3" y="1050.8" width="13.7" height="47.5"/><rect x="1211.1" y="1050.8" width="3.7" height="47.5"/><rect x="1216.0" y="1050.8" width="3.9" height="47.5"/><rect x="1226.0" y="1050.8" width="12.7" height="47.5"/><rect x="1243.2" y="1050.8" width="7.6" height="47.5"/><rect x="1319.4" y="1050.8" width="14.9" height="47.5"/><rect x="1335.2" y="1050.8" width="8.8" height="47.5"/><rect x="1346.8" y="1050.8" width="7.5" height="47.5"/><rect x="1371.0" y="1050.8" width="4.0" height="47.5"/><rect x="1375.9" y="1050.8" width="11.4" height="47.5"/><rect x="1391.0" y="1050.8" width="10.9" height="47.5"/><rect x="1404.2" y="1050.8" width="3.8" height="47.5"/><rect x="1408.9" y="1050.8" width="5.3" height="47.5"/><rect x="1414.9" y="1050.8" width="5.4" height="47.5"/><rect x="1422.8" y="1050.8" width="5.4" height="47.5"/><rect x="1429.1" y="1050.8" width="5.4" height="47.5"/><rect x="1435.2" y="1050.8" width="5.1" height="47.5"/><rect x="1441.2" y="1050.8" width="5.1" height="47.5"/><rect x="1447.2" y="1050.8" width="4.2" height="47.5"/><rect x="1452.4" y="1050.8" width="8.3" height="47.5"/><rect x="1462.3" y="1050.8" width="6.4" height="47.5"/><rect x="1469.6" y="1050.8" width="6.4" height="47.5"/><rect x="1477.2" y="1050.8" width="3.8" height="47.5"/><rect x="1498.0" y="1050.8" width="3.6" height="47.5"/><rect x="1503.9" y="1050.8" width="3.7" height="47.5"/><rect x="1511.7" y="1050.8" width="3.7" height="47.5"/><rect x="1516.5" y="1050.8" width="3.4" height="47.5"/><rect x="1521.3" y="1050.8" width="19.2" height="47.5"/><rect x="1541.7" y="1050.8" width="4.3" height="47.5"/><rect x="1556.1" y="1050.8" width="3.6" height="47.5"/><rect x="1561.1" y="1050.8" width="12.1" height="47.5"/><rect x="1574.4" y="1050.8" width="3.6" height="47.5"/><rect x="1580.5" y="1050.8" width="3.5" height="47.5"/><rect x="1586.9" y="1050.8" width="14.5" height="47.5"/><rect x="1606.4" y="1050.8" width="3.4" height="47.5"/><rect x="1612.6" y="1050.8" width="28.3" height="47.5"/><rect x="1653.3" y="1050.8" width="12.1" height="47.5"/><rect x="1679.1" y="1050.8" width="3.2" height="47.5"/><rect x="1685.3" y="1050.8" width="3.4" height="47.5"/><rect x="1724.6" y="1050.8" width="3.2" height="47.5"/><rect x="1730.8" y="1050.8" width="3.2" height="47.5"/><rect x="1740.9" y="1050.8" width="4.1" height="47.5"/><rect x="1748.2" y="1050.8" width="4.3" height="47.5"/><rect x="1753.9" y="1050.8" width="17.2" height="47.5"/><rect x="1772.0" y="1050.8" width="4.8" height="47.5"/><rect x="1778.4" y="1050.8" width="4.1" height="47.5"/><rect x="1804.5" y="1050.8" width="3.2" height="47.5"/><rect x="1810.9" y="1050.8" width="3.2" height="47.5"/><rect x="1821.9" y="1050.8" width="4.1" height="47.5"/><rect x="1827.8" y="1050.8" width="6.9" height="47.5"/></g>
<path d="M145.4 1251.2L146.4 1251.0L147.4 1250.7L148.4 1250.4L149.4 1250.2L150.4 1249.9L151.4 1249.6L152.4 1249.4L153.4 1249.1L154.4 1248.9L155.4 1248.7L156.4 1248.5L157.4 1248.4L158.4 1248.2L159.4 1248.1L160.4 1248.1L161.4 1248.0L162.4 1247.9L163.4 1247.8L164.4 1247.7L165.4 1247.7L166.4 1247.6L167.4 1247.6L168.4 1247.5L169.4 1247.5L170.4 1247.5L171.4 1247.5L172.4 1247.9L173.4 1248.5L174.4 1249.3L175.4 1250.2L176.4 1251.0L177.4 1251.6L178.4 1252.0L179.4 1252.0L180.4 1252.0L181.4 1251.9L182.4 1251.8L183.4 1251.6L184.4 1251.5L185.4 1251.3L186.4 1251.1L187.4 1251.0L188.4 1250.7L189.4 1250.4L190.4 1250.1L191.4 1249.6L192.4 1249.1L193.4 1248.6L194.4 1248.1L195.4 1247.6L196.4 1246.9L197.4 1246.0L198.4 1245.2L199.4 1244.4L200.4 1243.9L201.4 1243.8L202.4 1244.2L203.4 1244.8L204.4 1245.6L205.4 1246.6L206.4 1247.6L207.4 1248.5L208.4 1249.3L209.4 1250.2L210.4 1251.1L211.4 1252.1L212.4 1252.9L213.4 1253.7L214.4 1254.2L215.4 1254.7L216.4 1255.2L217.4 1255.6L218.4 1256.0L219.4 1256.2L220.4 1256.4L221.4 1256.4L222.4 1256.0L223.4 1255.2L224.4 1254.3L225.4 1253.2L226.4 1252.1L227.4 1251.1L228.4 1250.2L229.4 1249.1L230.4 1248.1L231.4 1247.3L232.4 1246.8L233.4 1246.3L234.4 1245.9L235.4 1245.5L236.4 1245.2L237.4 1245.0L238.4 1244.8L239.4 1244.7L240.4 1244.7L241.4 1244.7L242.4 1244.8L243.4 1244.8L244.4 1244.9L245.4 1245.0L246.4 1245.1L247.4 1245.3L248.4 1245.5L249.4 1245.9L250.4 1246.5L251.4 1247.2L252.4 1247.9L253.4 1248.6L254.4 1249.1L255.4 1249.7L256.4 1250.3L257.4 1250.8L258.4 1251.4L259.4 1251.7L260.4 1252.0L261.4 1252.0L262.4 1251.8L263.4 1251.4L264.4 1250.9L265.4 1250.3L266.4 1249.8L267.4 1249.3L268.4 1248.9L269.4 1248.7L270.4 1248.8L271.4 1249.2L272.4 1249.8L273.4 1250.6L274.4 1251.3L275.4 1251.8L276.4 1252.0L277.4 1251.9L278.4 1251.5L279.4 1250.9L280.4 1250.2L281.4 1249.5L282.4 1248.8L283.4 1248.2L284.4 1247.7L285.4 1247.5L286.4 1247.4L287.4 1247.3L288.4 1247.2L289.4 1247.1L290.4 1247.0L291.4 1247.0L292.4 1246.9L293.4 1246.9L294.4 1246.9L295.4 1247.2L296.4 1247.8L297.4 1248.6L298.4 1249.5L299.4 1250.4L300.4 1251.2L301.4 1251.8L302.4 1252.1L303.4 1252.3L304.4 1252.5L305.4 1252.8L306.4 1253.0L307.4 1253.1L308.4 1253.3L309.4 1253.5L310.4 1253.6L311.4 1253.7L312.4 1253.9L313.4 1254.0L314.4 1254.0L315.4 1254.1L316.4 1254.2L317.4 1254.2L318.4 1254.2L319.4 1254.2L320.4 1254.0L321.4 1253.7L322.4 1253.3L323.4 1252.9L324.4 1252.4L325.4 1252.0L326.4 1251.6L327.4 1251.3L328.4 1251.0L329.4 1250.9L330.4 1250.9L331.4 1250.9L332.4 1250.9L333.4 1250.9L334.4 1250.9L335.4 1250.9L336.4 1250.9L337.4 1250.9L338.4 1250.9L339.4 1250.9L340.4 1250.9L341.4 1250.9L342.4 1250.9L343.4 1250.8L344.4 1250.0L345.4 1248.6L346.4 1247.0L347.4 1245.4L348.4 1244.3L349.4 1243.7L350.4 1243.2L351.4 1242.7L352.4 1242.3L353.4 1242.1L354.4 1242.0L355.4 1242.3L356.4 1242.8L357.4 1243.6L358.4 1244.6L359.4 1245.8L360.4 1247.1L361.4 1248.5L362.4 1250.0L363.4 1251.6L364.4 1253.7L365.4 1256.4L366.4 1259.4L367.4 1262.5L368.4 1265.5L369.4 1268.1L370.4 1270.4L371.4 1272.8L372.4 1275.0L373.4 1277.0L374.4 1278.7L375.4 1279.9L376.4 1281.0L377.4 1281.9L378.4 1282.7L379.4 1283.0L380.4 1282.6L381.4 1280.9L382.4 1278.4L383.4 1275.2L384.4 1271.3L385.4 1264.3L386.4 1254.9L387.4 1244.3L388.4 1234.1L389.4 1224.4L390.4 1214.3L391.4 1204.0L392.4 1193.8L393.4 1183.6L394.4 1172.3L395.4 1161.9L396.4 1155.0L397.4 1150.2L398.4 1146.2L399.4 1143.8L400.4 1143.6L401.4 1146.5L402.4 1151.7L403.4 1158.1L404.4 1164.9L405.4 1173.9L406.4 1184.8L407.4 1197.0L408.4 1209.6L409.4 1224.0L410.4 1240.3L411.4 1255.1L412.4 1266.0L413.4 1275.7L414.4 1283.2L415.4 1287.3L416.4 1289.9L417.4 1291.6L418.4 1291.7L419.4 1289.5L420.4 1285.8L421.4 1281.4L422.4 1276.7L423.4 1270.3L424.4 1263.0L425.4 1255.9L426.4 1249.8L427.4 1244.2L428.4 1238.7L429.4 1233.6L430.4 1229.1L431.4 1225.4L432.4 1222.7L433.4 1220.2L434.4 1217.8L435.4 1215.6L436.4 1213.7L437.4 1212.3L438.4 1211.3L439.4 1210.9L440.4 1211.0L441.4 1211.4L442.4 1212.1L443.4 1213.0L444.4 1214.1L445.4 1215.3L446.4 1216.7L447.4 1218.2L448.4 1219.8L449.4 1222.0L450.4 1225.1L451.4 1228.9L452.4 1233.2L453.4 1237.6L454.4 1241.8L455.4 1245.8L456.4 1250.1L457.4 1254.7L458.4 1259.1L459.4 1263.0L460.4 1265.9L461.4 1268.1L462.4 1270.2L463.4 1271.9L464.4 1272.9L465.4 1273.0L466.4 1272.5L467.4 1271.5L468.4 1270.1L469.4 1268.5L470.4 1266.7L471.4 1264.7L472.4 1261.7L473.4 1258.2L474.4 1254.5L475.4 1250.9L476.4 1247.8L477.4 1244.8L478.4 1241.7L479.4 1238.7L480.4 1236.0L481.4 1233.5L482.4 1231.5L483.4 1230.0L484.4 1228.5L485.4 1227.1L486.4 1225.8L487.4 1224.6L488.4 1223.6L489.4 1222.8L490.4 1222.3L491.4 1222.0L492.4 1222.2L493.4 1223.0L494.4 1224.4L495.4 1226.3L496.4 1228.4L497.4 1230.8L498.4 1233.4L499.4 1236.7L500.4 1241.2L501.4 1246.3L502.4 1251.8L503.4 1257.2L504.4 1262.4L505.4 1268.2L506.4 1274.2L507.4 1279.9L508.4 1284.9L509.4 1288.6L510.4 1291.5L511.4 1294.2L512.4 1296.6L513.4 1298.4L514.4 1299.5L515.4 1299.7L516.4 1299.4L517.4 1298.8L518.4 1298.0L519.4 1297.0L520.4 1295.9L521.4 1293.7L522.4 1290.8L523.4 1287.5L524.4 1284.2L525.4 1280.8L526.4 1277.1L527.4 1273.2L528.4 1269.5L529.4 1266.0L530.4 1263.1L531.4 1260.2L532.4 1257.4L533.4 1254.8L534.4 1252.3L535.4 1250.1L536.4 1248.3L537.4 1246.8L538.4 1245.6L539.4 1244.7L540.4 1243.8L541.4 1243.0L542.4 1242.3L543.4 1241.7L544.4 1241.1L545.4 1240.5L546.4 1239.9L547.4 1239.3L548.4 1238.7L549.4 1238.2L550.4 1237.6L551.4 1237.1L552.4 1236.6L553.4 1236.2L554.4 1235.7L555.4 1235.3L556.4 1235.0L557.4 1234.6L558.4 1234.2L559.4 1233.8L560.4 1233.4L561.4 1233.1L562.4 1232.9L563.4 1232.8L564.4 1232.7L565.4 1233.0L566.4 1234.0L567.4 1235.4L568.4 1237.2L569.4 1239.2L570.4 1241.2L571.4 1243.2L572.4 1245.1L573.4 1246.5L574.4 1247.8L575.4 1249.1L576.4 1250.3L577.4 1251.5L578.4 1252.6L579.4 1253.7L580.4 1254.7L581.4 1255.7L582.4 1256.8L583.4 1257.9L584.4 1259.1L585.4 1260.1L586.4 1261.0L587.4 1261.6L588.4 1262.0L589.4 1262.0L590.4 1261.8L591.4 1261.5L592.4 1261.1L593.4 1260.6L594.4 1260.0L595.4 1259.3L596.4 1258.5L597.4 1257.7L598.4 1256.7L599.4 1255.1L600.4 1252.9L601.4 1250.5L602.4 1248.0L603.4 1245.6L604.4 1243.5L605.4 1242.0L606.4 1240.8L607.4 1239.6L608.4 1238.4L609.4 1237.4L610.4 1236.5L611.4 1235.8L612.4 1235.4L613.4 1235.3L614.4 1235.5L615.4 1235.8L616.4 1236.3L617.4 1236.9L618.4 1237.5L619.4 1238.2L620.4 1238.8L621.4 1239.4L622.4 1239.9L623.4 1240.5L624.4 1241.1L625.4 1241.7L626.4 1242.3L627.4 1242.8L628.4 1243.3L629.4 1243.6L630.4 1243.8L631.4 1243.8L632.4 1243.5L633.4 1243.0L634.4 1242.4L635.4 1241.7L636.4 1241.1L637.4 1240.7L638.4 1240.4L639.4 1240.4L640.4 1240.5L641.4 1240.7L642.4 1240.9L643.4 1241.1L644.4 1241.4L645.4 1241.8L646.4 1242.2L647.4 1242.6L648.4 1243.0L649.4 1243.5L650.4 1244.0L651.4 1244.5L652.4 1245.2L653.4 1246.1L654.4 1247.2L655.4 1248.3L656.4 1249.5L657.4 1250.8L658.4 1252.0L659.4 1253.1L660.4 1254.1L661.4 1254.9L662.4 1255.5L663.4 1256.1L664.4 1256.7L665.4 1257.3L666.4 1257.8L667.4 1258.2L668.4 1258.4L669.4 1258.6L670.4 1258.5L671.4 1258.0L672.4 1257.1L673.4 1256.1L674.4 1255.1L675.4 1254.1L676.4 1253.4L677.4 1253.1L678.4 1253.3L679.4 1253.8L680.4 1254.5L681.4 1255.3L682.4 1256.1L683.4 1256.8L684.4 1257.3L685.4 1257.5L686.4 1257.4L687.4 1257.0L688.4 1256.4L689.4 1255.7L690.4 1254.7L691.4 1253.5L692.4 1252.0L693.4 1250.1L694.4 1244.0L695.4 1235.6L696.4 1228.7L697.4 1223.6L698.4 1218.6L699.4 1214.5L700.4 1212.2L701.4 1212.1L702.4 1212.5L703.4 1213.2L704.4 1214.3L705.4 1215.6L706.4 1219.8L707.4 1227.3L708.4 1235.7L709.4 1242.7L710.4 1247.3L711.4 1251.8L712.4 1255.6L713.4 1258.0L714.4 1258.6L715.4 1258.3L716.4 1257.6L717.4 1256.7L718.4 1255.6L719.4 1252.7L720.4 1246.2L721.4 1238.4L722.4 1231.5L723.4 1227.4L724.4 1224.1L725.4 1221.4L726.4 1219.9L727.4 1220.0L728.4 1221.1L729.4 1223.0L730.4 1225.4L731.4 1228.8L732.4 1235.2L733.4 1243.6L734.4 1252.8L735.4 1261.5L736.4 1271.8L737.4 1282.3L738.4 1289.9L739.4 1293.7L740.4 1296.8L741.4 1299.2L742.4 1300.6L743.4 1300.7L744.4 1300.1L745.4 1298.8L746.4 1297.2L747.4 1295.3L748.4 1292.3L749.4 1287.9L750.4 1282.7L751.4 1277.6L752.4 1273.1L753.4 1268.5L754.4 1263.8L755.4 1259.5L756.4 1255.8L757.4 1253.1L758.4 1251.1L759.4 1249.2L760.4 1247.5L761.4 1245.9L762.4 1244.5L763.4 1243.3L764.4 1242.4L765.4 1241.9L766.4 1241.6L767.4 1241.5L768.4 1241.4L769.4 1241.3L770.4 1241.2L771.4 1241.1L772.4 1241.0L773.4 1241.0L774.4 1241.0L775.4 1240.9L776.4 1240.9L777.4 1240.9L778.4 1241.1L779.4 1241.6L780.4 1242.3L781.4 1243.2L782.4 1244.2L783.4 1245.2L784.4 1246.1L785.4 1246.9L786.4 1247.6L787.4 1248.1L788.4 1248.7L789.4 1249.2L790.4 1249.8L791.4 1250.3L792.4 1250.8L793.4 1251.2L794.4 1251.5L795.4 1251.8L796.4 1252.0L797.4 1252.0L798.4 1252.0L799.4 1251.9L800.4 1251.7L801.4 1251.5L802.4 1251.2L803.4 1251.0L804.4 1250.7L805.4 1250.4L806.4 1250.0L807.4 1249.7L808.4 1249.4L809.4 1249.1L810.4 1248.9L811.4 1248.6L812.4 1248.4L813.4 1248.3L814.4 1248.2L815.4 1248.2L816.4 1248.2L817.4 1248.3L818.4 1248.3L819.4 1248.4L820.4 1248.5L821.4 1248.6L822.4 1248.8L823.4 1248.9L824.4 1249.0L825.4 1249.2L826.4 1249.3L827.4 1249.4L828.4 1249.6L829.4 1249.7L830.4 1249.8L831.4 1249.9L832.4 1250.0L833.4 1250.1L834.4 1250.2L835.4 1250.3L836.4 1250.4L837.4 1250.5L838.4 1250.6L839.4 1250.7L840.4 1250.8L841.4 1250.8L842.4 1250.9L843.4 1250.9L844.4 1250.9L845.4 1250.7L846.4 1250.5L847.4 1250.1L848.4 1249.7L849.4 1249.2L850.4 1248.8L851.4 1248.2L852.4 1247.8L853.4 1247.3L854.4 1246.9L855.4 1246.6L856.4 1246.5L857.4 1246.4L858.4 1246.4L859.4 1246.5L860.4 1246.5L861.4 1246.6L862.4 1246.7L863.4 1246.8L864.4 1246.9L865.4 1247.0L866.4 1247.2L867.4 1247.3L868.4 1247.5L869.4 1247.7L870.4 1248.1L871.4 1248.6L872.4 1249.1L873.4 1249.7L874.4 1250.3L875.4 1250.8L876.4 1251.3L877.4 1251.7L878.4 1251.9L879.4 1252.0L880.4 1252.0L881.4 1251.9L882.4 1251.9L883.4 1251.7L884.4 1251.6L885.4 1251.5L886.4 1251.3L887.4 1251.1L888.4 1250.9L889.4 1250.5L890.4 1249.7L891.4 1248.8L892.4 1247.7L893.4 1246.6L894.4 1245.5L895.4 1244.6L896.4 1243.8L897.4 1243.3L898.4 1243.1L899.4 1243.3L900.4 1243.8L901.4 1244.6L902.4 1245.6L903.4 1246.8L904.4 1248.0L905.4 1249.4L906.4 1250.7L907.4 1252.0L908.4 1253.2L909.4 1254.6L910.4 1256.2L911.4 1258.0L912.4 1259.9L913.4 1261.6L914.4 1263.1L915.4 1264.3L916.4 1265.1L917.4 1265.3L918.4 1265.3L919.4 1265.3L920.4 1265.3L921.4 1265.3L922.4 1265.3L923.4 1265.3L924.4 1265.3L925.4 1265.3L926.4 1265.3L927.4 1265.3L928.4 1265.3L929.4 1265.2L930.4 1265.0L931.4 1264.6L932.4 1264.1L933.4 1263.5L934.4 1262.9L935.4 1262.2L936.4 1261.4L937.4 1260.6L938.4 1259.8L939.4 1259.1L940.4 1258.3L941.4 1257.2L942.4 1255.9L943.4 1254.6L944.4 1253.3L945.4 1252.4L946.4 1252.0L947.4 1252.0L948.4 1252.0L949.4 1252.0L950.4 1252.0L951.4 1252.0L952.4 1252.0L953.4 1252.0L954.4 1252.0L955.4 1252.0L956.4 1252.0L957.4 1252.0L958.4 1251.9L959.4 1251.5L960.4 1250.9L961.4 1250.0L962.4 1249.0L963.4 1247.9L964.4 1246.8L965.4 1245.7L966.4 1244.7L967.4 1243.9L968.4 1243.3L969.4 1242.9L970.4 1242.5L971.4 1242.2L972.4 1241.9L973.4 1241.6L974.4 1241.4L975.4 1241.2L976.4 1240.9L977.4 1240.7L978.4 1240.5L979.4 1240.3L980.4 1240.1L981.4 1239.8L982.4 1239.6L983.4 1239.3L984.4 1239.1L985.4 1238.9L986.4 1238.8L987.4 1238.7L988.4 1238.8L989.4 1239.2L990.4 1239.9L991.4 1240.7L992.4 1241.7L993.4 1242.8L994.4 1243.9L995.4 1244.8L996.4 1245.7L997.4 1246.3L998.4 1246.7L999.4 1247.1L1000.4 1247.4L1001.4 1247.8L1002.4 1248.1L1003.4 1248.5L1004.4 1248.8L1005.4 1249.0L1006.4 1249.3L1007.4 1249.5L1008.4 1249.6L1009.4 1249.7L1010.4 1249.8L1011.4 1249.8L1012.4 1249.8L1013.4 1249.7L1014.4 1249.6L1015.4 1249.5L1016.4 1249.4L1017.4 1249.3L1018.4 1249.1L1019.4 1249.0L1020.4 1248.8L1021.4 1248.6L1022.4 1248.5L1023.4 1248.3L1024.4 1248.2L1025.4 1248.1L1026.4 1247.9L1027.4 1247.8L1028.4 1247.7L1029.4 1247.5L1030.4 1247.4L1031.4 1247.2L1032.4 1247.0L1033.4 1246.8L1034.4 1246.6L1035.4 1246.4L1036.4 1246.1L1037.4 1245.6L1038.4 1245.0L1039.4 1244.4L1040.4 1243.7L1041.4 1243.0L1042.4 1242.4L1043.4 1241.8L1044.4 1241.3L1045.4 1241.0L1046.4 1240.9L1047.4 1241.0L1048.4 1241.4L1049.4 1241.9L1050.4 1242.7L1051.4 1243.5L1052.4 1244.5L1053.4 1245.5L1054.4 1246.6L1055.4 1248.3L1056.4 1250.4L1057.4 1252.8L1058.4 1255.1L1059.4 1257.0L1060.4 1258.2L1061.4 1259.4L1062.4 1260.6L1063.4 1261.6L1064.4 1262.4L1065.4 1262.9L1066.4 1263.1L1067.4 1262.9L1068.4 1262.4L1069.4 1261.6L1070.4 1260.7L1071.4 1259.6L1072.4 1258.4L1073.4 1257.3L1074.4 1256.2L1075.4 1255.1L1076.4 1253.9L1077.4 1252.6L1078.4 1251.3L1079.4 1249.9L1080.4 1248.4L1081.4 1246.8L1082.4 1245.2L1083.4 1243.4L1084.4 1241.6L1085.4 1239.6L1086.4 1237.3L1087.4 1234.8L1088.4 1232.1L1089.4 1229.4L1090.4 1226.7L1091.4 1224.0L1092.4 1221.5L1093.4 1219.1L1094.4 1216.6L1095.4 1214.0L1096.4 1211.6L1097.4 1209.5L1098.4 1207.9L1099.4 1206.6L1100.4 1205.4L1101.4 1204.5L1102.4 1203.9L1103.4 1203.8L1104.4 1204.4L1105.4 1205.3L1106.4 1206.6L1107.4 1208.0L1108.4 1209.5L1109.4 1211.1L1110.4 1212.9L1111.4 1215.1L1112.4 1217.4L1113.4 1219.8L1114.4 1222.2L1115.4 1224.5L1116.4 1226.9L1117.4 1229.5L1118.4 1232.2L1119.4 1234.7L1120.4 1237.1L1121.4 1239.0L1122.4 1240.5L1123.4 1241.9L1124.4 1243.3L1125.4 1244.6L1126.4 1245.8L1127.4 1247.0L1128.4 1248.0L1129.4 1248.9L1130.4 1249.6L1131.4 1250.3L1132.4 1250.7L1133.4 1251.0L1134.4 1251.2L1135.4 1251.4L1136.4 1251.6L1137.4 1251.7L1138.4 1251.8L1139.4 1251.9L1140.4 1252.0L1141.4 1252.1L1142.4 1252.2L1143.4 1252.3L1144.4 1252.4L1145.4 1252.5L1146.4 1252.7L1147.4 1252.9L1148.4 1253.1L1149.4 1253.4L1150.4 1253.8L1151.4 1254.3L1152.4 1254.8L1153.4 1255.5L1154.4 1256.2L1155.4 1256.9L1156.4 1257.6L1157.4 1258.3L1158.4 1259.0L1159.4 1259.7L1160.4 1260.3L1161.4 1261.1L1162.4 1261.9L1163.4 1262.7L1164.4 1263.5L1165.4 1264.4L1166.4 1265.1L1167.4 1265.8L1168.4 1266.5L1169.4 1267.0L1170.4 1267.3L1171.4 1267.5L1172.4 1267.5L1173.4 1267.5L1174.4 1267.4L1175.4 1267.4L1176.4 1267.3L1177.4 1267.2L1178.4 1267.1L1179.4 1267.0L1180.4 1266.9L1181.4 1266.7L1182.4 1266.5L1183.4 1266.1L1184.4 1264.8L1185.4 1262.7L1186.4 1260.0L1187.4 1257.0L1188.4 1254.1L1189.4 1251.4L1190.4 1249.0L1191.4 1246.4L1192.4 1243.8L1193.4 1241.2L1194.4 1238.8L1195.4 1236.7L1196.4 1235.0L1197.4 1233.4L1198.4 1231.8L1199.4 1230.3L1200.4 1229.1L1201.4 1228.4L1202.4 1228.2L1203.4 1228.3L1204.4 1228.7L1205.4 1229.2L1206.4 1229.8L1207.4 1230.5L1208.4 1231.2L1209.4 1232.0L1210.4 1232.9L1211.4 1233.8L1212.4 1234.9L1213.4 1236.4L1214.4 1237.9L1215.4 1239.5L1216.4 1241.2L1217.4 1242.7L1218.4 1244.1L1219.4 1245.2L1220.4 1246.1L1221.4 1246.9L1222.4 1247.6L1223.4 1248.3L1224.4 1249.0L1225.4 1249.6L1226.4 1250.2L1227.4 1250.8L1228.4 1251.5L1229.4 1252.2L1230.4 1252.9L1231.4 1253.8L1232.4 1254.8L1233.4 1255.8L1234.4 1256.9L1235.4 1258.0L1236.4 1259.1L1237.4 1260.1L1238.4 1261.1L1239.4 1261.9L1240.4 1262.7L1241.4 1263.6L1242.4 1264.4L1243.4 1265.2L1244.4 1265.9L1245.4 1266.4L1246.4 1266.8L1247.4 1266.9L1248.4 1266.8L1249.4 1266.5L1250.4 1266.0L1251.4 1265.5L1252.4 1264.8L1253.4 1264.2L1254.4 1263.5L1255.4 1262.8L1256.4 1262.1L1257.4 1261.2L1258.4 1260.3L1259.4 1259.2L1260.4 1258.2L1261.4 1257.1L1262.4 1256.1L1263.4 1255.2L1264.4 1254.3L1265.4 1253.5L1266.4 1252.9L1267.4 1252.3L1268.4 1251.8L1269.4 1251.2L1270.4 1250.6L1271.4 1250.1L1272.4 1249.6L1273.4 1249.1L1274.4 1248.7L1275.4 1248.4L1276.4 1248.0L1277.4 1247.8L1278.4 1247.6L1279.4 1247.5L1280.4 1247.4L1281.4 1247.4L1282.4 1247.3L1283.4 1247.3L1284.4 1247.3L1285.4 1247.2L1286.4 1247.2L1287.4 1247.2L1288.4 1247.2L1289.4 1247.2L1290.4 1247.1L1291.4 1247.1L1292.4 1247.1L1293.4 1247.1L1294.4 1247.0L1295.4 1247.0L1296.4 1246.9L1297.4 1246.9L1298.4 1246.8L1299.4 1246.7L1300.4 1246.6L1301.4 1246.4L1302.4 1246.3L1303.4 1246.2L1304.4 1246.1L1305.4 1246.0L1306.4 1246.0L1307.4 1246.1L1308.4 1246.4L1309.4 1246.8L1310.4 1247.2L1311.4 1247.7L1312.4 1248.3L1313.4 1248.8L1314.4 1249.3L1315.4 1249.8L1316.4 1250.3L1317.4 1250.6L1318.4 1250.8L1319.4 1250.9L1320.4 1250.8L1321.4 1250.6L1322.4 1250.3L1323.4 1249.9L1324.4 1249.4L1325.4 1249.0L1326.4 1248.7L1327.4 1248.4L1328.4 1248.2L1329.4 1248.2L1330.4 1248.3L1331.4 1248.4L1332.4 1248.5L1333.4 1248.7L1334.4 1248.9L1335.4 1249.2L1336.4 1249.4L1337.4 1249.7L1338.4 1250.0L1339.4 1250.2L1340.4 1250.5L1341.4 1250.9L1342.4 1251.3L1343.4 1251.8L1344.4 1252.2L1345.4 1252.7L1346.4 1253.1L1347.4 1253.3L1348.4 1253.5L1349.4 1253.5L1350.4 1253.5L1351.4 1253.5L1352.4 1253.5L1353.4 1253.5L1354.4 1253.5L1355.4 1253.5L1356.4 1253.5L1357.4 1253.5L1358.4 1253.5L1359.4 1253.5L1360.4 1253.5L1361.4 1253.5L1362.4 1253.5L1363.4 1253.6L1364.4 1254.0L1365.4 1254.4L1366.4 1255.0L1367.4 1255.7L1368.4 1256.4L1369.4 1257.1L1370.4 1257.9L1371.4 1258.6L1372.4 1259.3L1373.4 1259.9L1374.4 1260.4L1375.4 1260.9L1376.4 1261.3L1377.4 1261.8L1378.4 1262.3L1379.4 1262.8L1380.4 1263.3L1381.4 1263.8L1382.4 1264.4L1383.4 1265.1L1384.4 1265.8L1385.4 1266.6L1386.4 1267.4L1387.4 1268.0L1388.4 1268.5L1389.4 1268.8L1390.4 1269.0L1391.4 1269.2L1392.4 1269.4L1393.4 1269.6L1394.4 1269.7L1395.4 1269.7L1396.4 1269.5L1397.4 1268.9L1398.4 1268.0L1399.4 1266.8L1400.4 1265.5L1401.4 1264.0L1402.4 1262.5L1403.4 1261.1L1404.4 1259.7L1405.4 1258.2L1406.4 1256.5L1407.4 1254.7L1408.4 1252.9L1409.4 1251.2L1410.4 1249.6L1411.4 1248.2L1412.4 1246.9L1413.4 1245.8L1414.4 1244.7L1415.4 1243.6L1416.4 1242.6L1417.4 1241.4L1418.4 1240.2L1419.4 1238.8L1420.4 1237.1L1421.4 1235.2L1422.4 1233.3L1423.4 1231.6L1424.4 1230.3L1425.4 1229.4L1426.4 1228.9L1427.4 1228.3L1428.4 1227.9L1429.4 1227.5L1430.4 1227.2L1431.4 1227.0L1432.4 1226.9L1433.4 1227.0L1434.4 1227.5L1435.4 1228.4L1436.4 1229.4L1437.4 1230.6L1438.4 1231.7L1439.4 1232.7L1440.4 1233.6L1441.4 1234.5L1442.4 1235.5L1443.4 1236.4L1444.4 1237.3L1445.4 1238.0L1446.4 1238.6L1447.4 1239.2L1448.4 1239.6L1449.4 1240.0L1450.4 1240.4L1451.4 1240.8L1452.4 1241.1L1453.4 1241.4L1454.4 1241.7L1455.4 1242.0L1456.4 1242.3L1457.4 1242.6L1458.4 1242.9L1459.4 1243.2L1460.4 1243.5L1461.4 1243.7L1462.4 1243.9L1463.4 1244.2L1464.4 1244.4L1465.4 1244.5L1466.4 1244.7L1467.4 1244.8L1468.4 1245.0L1469.4 1245.1L1470.4 1245.3L1471.4 1245.4L1472.4 1245.5L1473.4 1245.6L1474.4 1245.7L1475.4 1245.8L1476.4 1245.9L1477.4 1245.9L1478.4 1246.0L1479.4 1246.0L1480.4 1246.0L1481.4 1245.8L1482.4 1245.6L1483.4 1245.2L1484.4 1244.8L1485.4 1244.3L1486.4 1243.9L1487.4 1243.4L1488.4 1243.0L1489.4 1242.7L1490.4 1242.5L1491.4 1242.3L1492.4 1242.2L1493.4 1242.1L1494.4 1241.9L1495.4 1241.8L1496.4 1241.7L1497.4 1241.7L1498.4 1241.6L1499.4 1241.6L1500.4 1241.6L1501.4 1241.6L1502.4 1241.7L1503.4 1241.7L1504.4 1241.8L1505.4 1241.8L1506.4 1241.9L1507.4 1241.9L1508.4 1242.0L1509.4 1242.0L1510.4 1242.0L1511.4 1242.0L1512.4 1241.8L1513.4 1241.4L1514.4 1241.0L1515.4 1240.5L1516.4 1240.0L1517.4 1239.4L1518.4 1238.9L1519.4 1238.5L1520.4 1238.2L1521.4 1238.0L1522.4 1238.0L1523.4 1238.2L1524.4 1238.4L1525.4 1238.8L1526.4 1239.2L1527.4 1239.6L1528.4 1240.1L1529.4 1240.7L1530.4 1241.4L1531.4 1242.3L1532.4 1243.2L1533.4 1244.1L1534.4 1244.8L1535.4 1245.4L1536.4 1245.8L1537.4 1246.1L1538.4 1246.4L1539.4 1246.7L1540.4 1247.0L1541.4 1247.3L1542.4 1247.6L1543.4 1247.9L1544.4 1248.3L1545.4 1248.9L1546.4 1249.5L1547.4 1250.2L1548.4 1250.9L1549.4 1251.7L1550.4 1252.5L1551.4 1253.2L1552.4 1253.8L1553.4 1254.4L1554.4 1255.0L1555.4 1255.6L1556.4 1256.2L1557.4 1256.8L1558.4 1257.3L1559.4 1257.8L1560.4 1258.2L1561.4 1258.5L1562.4 1258.7L1563.4 1258.9L1564.4 1259.1L1565.4 1259.2L1566.4 1259.4L1567.4 1259.5L1568.4 1259.6L1569.4 1259.7L1570.4 1259.9L1571.4 1260.0L1572.4 1260.1L1573.4 1260.3L1574.4 1260.5L1575.4 1260.7L1576.4 1260.9L1577.4 1261.2L1578.4 1261.4L1579.4 1261.6L1580.4 1261.9L1581.4 1262.1L1582.4 1262.4L1583.4 1262.6L1584.4 1262.7L1585.4 1262.9L1586.4 1263.0L1587.4 1263.1L1588.4 1263.1L1589.4 1263.0L1590.4 1262.9L1591.4 1262.6L1592.4 1262.2L1593.4 1261.6L1594.4 1261.1L1595.4 1260.4L1596.4 1259.6L1597.4 1258.1L1598.4 1255.9L1599.4 1253.4L1600.4 1251.1L1601.4 1249.2L1602.4 1247.5L1603.4 1245.8L1604.4 1244.2L1605.4 1242.7L1606.4 1241.2L1607.4 1239.7L1608.4 1238.3L1609.4 1236.7L1610.4 1235.1L1611.4 1233.6L1612.4 1232.2L1613.4 1231.0L1614.4 1230.1L1615.4 1229.6L1616.4 1229.4L1617.4 1229.2L1618.4 1229.1L1619.4 1228.9L1620.4 1228.8L1621.4 1228.7L1622.4 1228.7L1623.4 1228.7L1624.4 1229.1L1625.4 1229.8L1626.4 1230.8L1627.4 1231.9L1628.4 1233.1L1629.4 1234.3L1630.4 1235.4L1631.4 1236.4L1632.4 1237.2L1633.4 1238.1L1634.4 1238.9L1635.4 1239.8L1636.4 1240.6L1637.4 1241.5L1638.4 1242.5L1639.4 1243.4L1640.4 1244.5L1641.4 1245.7L1642.4 1247.2L1643.4 1248.7L1644.4 1250.2L1645.4 1251.5L1646.4 1252.5L1647.4 1253.3L1648.4 1254.1L1649.4 1254.8L1650.4 1255.4L1651.4 1255.8L1652.4 1256.0L1653.4 1256.0L1654.4 1255.9L1655.4 1255.8L1656.4 1255.7L1657.4 1255.6L1658.4 1255.4L1659.4 1255.2L1660.4 1255.0L1661.4 1254.7L1662.4 1254.1L1663.4 1253.3L1664.4 1252.5L1665.4 1251.8L1666.4 1251.4L1667.4 1251.4L1668.4 1251.4L1669.4 1251.4L1670.4 1251.4L1671.4 1251.5L1672.4 1251.5L1673.4 1251.5L1674.4 1251.5L1675.4 1251.5L1676.4 1251.6L1677.4 1251.6L1678.4 1251.6L1679.4 1251.6L1680.4 1251.7L1681.4 1251.7L1682.4 1251.7L1683.4 1251.7L1684.4 1251.7L1685.4 1251.7L1686.4 1251.6L1687.4 1251.3L1688.4 1251.0L1689.4 1250.7L1690.4 1250.3L1691.4 1250.0L1692.4 1249.7L1693.4 1249.5L1694.4 1249.4L1695.4 1249.4L1696.4 1249.5L1697.4 1249.6L1698.4 1249.7L1699.4 1249.9L1700.4 1250.1L1701.4 1250.3L1702.4 1250.5L1703.4 1250.7L1704.4 1251.0L1705.4 1251.3L1706.4 1251.6L1707.4 1251.9L1708.4 1252.5L1709.4 1253.3L1710.4 1254.1L1711.4 1254.7L1712.4 1255.1L1713.4 1255.2L1714.4 1255.2L1715.4 1255.2L1716.4 1255.2L1717.4 1255.1L1718.4 1255.1L1719.4 1255.0L1720.4 1255.0L1721.4 1254.9L1722.4 1254.9L1723.4 1254.8L1724.4 1254.8L1725.4 1254.6L1726.4 1254.4L1727.4 1254.2L1728.4 1254.0L1729.4 1253.7L1730.4 1253.5L1731.4 1253.3L1732.4 1253.1L1733.4 1253.0L1734.4 1252.9L1735.4 1252.9L1736.4 1252.9L1737.4 1253.0L1738.4 1253.0L1739.4 1253.1L1740.4 1253.2L1741.4 1253.3L1742.4 1253.4L1743.4 1253.5L1744.4 1253.7L1745.4 1253.8L1746.4 1253.9L1747.4 1254.1L1748.4 1254.3L1749.4 1254.6L1750.4 1254.9L1751.4 1255.3L1752.4 1255.7L1753.4 1256.1L1754.4 1256.5L1755.4 1256.7L1756.4 1257.0L1757.4 1257.1L1758.4 1257.1L1759.4 1257.0L1760.4 1256.8L1761.4 1256.5L1762.4 1256.2L1763.4 1255.9L1764.4 1255.6L1765.4 1255.3L1766.4 1255.1L1767.4 1254.9L1768.4 1254.8L1769.4 1254.8L1770.4 1254.8L1771.4 1254.9L1772.4 1254.9L1773.4 1255.0L1774.4 1255.1L1775.4 1255.2L1776.4 1255.3L1777.4 1255.4L1778.4 1255.5L1779.4 1255.6L1780.4 1255.7L1781.4 1255.8L1782.4 1255.9L1783.4 1255.9L1784.4 1256.0L1785.4 1256.0L1786.4 1256.0L1787.4 1255.9L1788.4 1255.7L1789.4 1255.5L1790.4 1255.2L1791.4 1254.9L1792.4 1254.5L1793.4 1254.1L1794.4 1253.7L1795.4 1253.3L1796.4 1252.9L1797.4 1252.5L1798.4 1252.1L1799.4 1251.8L1800.4 1251.5L1801.4 1251.2L1802.4 1250.9L1803.4 1250.6L1804.4 1250.3L1805.4 1250.1L1806.4 1249.8L1807.4 1249.5L1808.4 1249.2L1809.4 1248.8L1810.4 1248.4L1811.4 1248.0L1812.4 1247.6L1813.4 1247.1L1814.4 1246.5L1815.4 1245.8L1816.4 1244.9L1817.4 1243.9L1818.4 1242.8L1819.4 1241.7L1820.4 1240.6L1821.4 1239.4L1822.4 1238.3L1823.4 1237.1L1824.4 1235.9L1825.4 1234.6L1826.4 1233.3L1827.4 1232.0L1828.4 1230.7L1829.4 1229.6L1830.4 1228.7L1831.4 1227.9L1832.4 1227.1L1833.4 1226.4L1834.4 1225.8L1835.4 1225.2L1836.4 1224.8" fill="none" stroke="#00f" stroke-width="7.6" stroke-linejoin="round" stroke-linecap="butt"/>
</g>
<!-- axes -->
<g stroke="#000" stroke-width="7.5" fill="none">
<rect x="145.4" y="28.7" width="1691.1" height="1361.3"/>
<line x1="145.4" y1="1390.0" x2="145.4" y2="1418.1"/><line x1="266.2" y1="1390.0" x2="266.2" y2="1404.6"/><line x1="387.0" y1="1390.0" x2="387.0" y2="1418.1"/><line x1="507.8" y1="1390.0" x2="507.8" y2="1404.6"/><line x1="628.6" y1="1390.0" x2="628.6" y2="1418.1"/><line x1="749.4" y1="1390.0" x2="749.4" y2="1404.6"/><line x1="870.2" y1="1390.0" x2="870.2" y2="1418.1"/><line x1="990.9" y1="1390.0" x2="990.9" y2="1404.6"/><line x1="1111.7" y1="1390.0" x2="1111.7" y2="1418.1"/><line x1="1232.5" y1="1390.0" x2="1232.5" y2="1404.6"/><line x1="1353.3" y1="1390.0" x2="1353.3" y2="1418.1"/><line x1="1474.1" y1="1390.0" x2="1474.1" y2="1404.6"/><line x1="1594.9" y1="1390.0" x2="1594.9" y2="1418.1"/><line x1="1715.7" y1="1390.0" x2="1715.7" y2="1404.6"/><line x1="1836.5" y1="1390.0" x2="1836.5" y2="1418.1"/>
</g>
<g font-size="79"><text x="145.4" y="1500.3" text-anchor="middle">20</text><text x="387.0" y="1500.3" text-anchor="middle">30</text><text x="628.6" y="1500.3" text-anchor="middle">40</text><text x="870.2" y="1500.3" text-anchor="middle">50</text><text x="1111.7" y="1500.3" text-anchor="middle">60</text><text x="1353.3" y="1500.3" text-anchor="middle">70</text><text x="1594.9" y="1500.3" text-anchor="middle">80</text><text x="1836.5" y="1500.3" text-anchor="middle">90</text></g>
<!-- axis titles -->
<text id="xt" font-size="87.0" transform="matrix(1 0 0 1.0 0 0.000)"><tspan x="762.5" y="1642.40">2</tspan><tspan x="877.5" y="1642.40">Cu</tspan><tspan x="1010" y="1642.40">K</tspan><tspan x="1128" y="1642.40">(°)</tspan></text><text id="xth" class="ser" font-size="86.5" transform="translate(810 1642.6) scale(1.13 1)">θ</text><text id="xal" class="ser" font-size="57" transform="translate(1066.2 1664.2) scale(1.24 1)">α</text>
<text id="yt" font-size="87.0" transform="translate(80.3 708.5) rotate(-90) scale(0.977 1.03)" text-anchor="middle">Intensity (a.u)</text>
<!-- legend -->
<circle cx="1340.6" cy="97.8" r="15.1" fill="url(#ball)"/>
<line x1="1247" y1="220.2" x2="1434" y2="220.2" stroke="#000" stroke-width="11.5" stroke-linecap="round"/>
<rect x="1339" y="319.7" width="4.2" height="46" fill="#00ba00"/>
<line x1="1247" y1="464.4" x2="1434" y2="464.4" stroke="#00f" stroke-width="7.6" stroke-linecap="round"/>
<text id="l1" font-size="88.0" transform="matrix(1 0 0 1.03 0 -3.786)"><tspan x="1454.6" y="126.20">Y</tspan><tspan x="1513" y="148.34" font-size="58.5">obs</tspan></text><text id="l2" font-size="88.0" transform="matrix(1 0 0 1.03 0 -7.491)"><tspan x="1454.6" y="249.70">Y</tspan><tspan x="1513" y="271.84" font-size="58.5">cal</tspan></text><text id="l3" font-size="88.0" transform="matrix(1 0 0 1.03 0 -11.142)"><tspan x="1455" y="371.40">Ni</tspan><tspan x="1538" y="393.54" font-size="58.5">3.4</tspan><tspan x="1618.4" y="371.40">Sn</tspan><tspan x="1721" y="393.54" font-size="58.5">4</tspan></text><text id="l4" font-size="88.0" transform="matrix(1 0 0 1.03 0 -14.844)"><tspan x="1454.6" y="494.80">Y</tspan><tspan x="1513" y="516.94" font-size="58.5">obs</tspan><tspan x="1603.9" y="494.80" textLength="34.9" lengthAdjust="spacingAndGlyphs">-</tspan><tspan x="1633.5" y="494.80">Y</tspan><tspan x="1692.5" y="516.94" font-size="58.5">cal</tspan></text>
</svg>
</body>
</html>
